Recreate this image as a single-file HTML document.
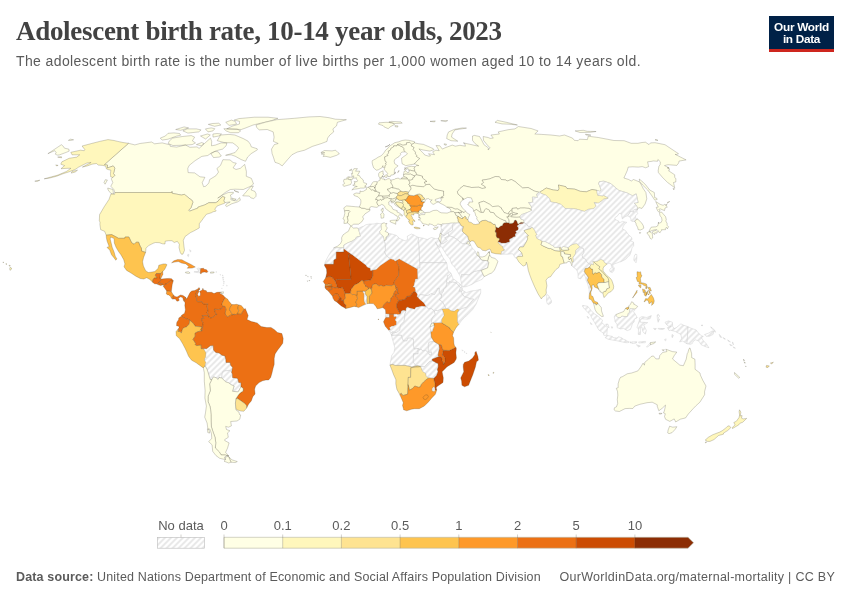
<!DOCTYPE html>
<html><head><meta charset="utf-8"><title>Adolescent birth rate, 10-14 year olds, 2023</title>
<style>
html,body{margin:0;padding:0;background:#fff;}
body{width:850px;height:600px;position:relative;overflow:hidden;font-family:"Liberation Sans",sans-serif;}
#title{position:absolute;left:16px;top:16px;font-family:"Liberation Serif",serif;font-weight:bold;font-size:27px;color:#424242;white-space:nowrap;letter-spacing:-0.3px;line-height:30px;}
#sub{position:absolute;left:16px;top:50.5px;font-size:14px;color:#5b5b5b;white-space:nowrap;line-height:20px;letter-spacing:0.385px}
#logo{position:absolute;left:769px;top:16px;width:65px;height:36px;background:#002147;border-bottom:0;color:#fff;font-weight:bold;font-size:11.8px;line-height:12px;text-align:center;box-sizing:border-box;padding-top:5px;letter-spacing:-0.3px}
#logo:after{content:"";position:absolute;left:0;bottom:0;width:100%;height:3px;background:#ce261e}
#foot{position:absolute;left:16px;top:569px;font-size:12.5px;color:#5b5b5b;white-space:nowrap;line-height:16px;letter-spacing:0.145px}
#foot b{font-weight:bold}
#foot2{position:absolute;right:15px;top:569px;font-size:12.5px;color:#5b5b5b;white-space:nowrap;line-height:16px;letter-spacing:0.28px}
svg{position:absolute;left:0;top:0}
svg path{stroke:rgba(60,55,40,0.55);stroke-width:0.42;stroke-linejoin:round}
.c0{fill:#ffffe5}.c1{fill:#fff7bc}.c2{fill:#fee391}.c3{fill:#fec44f}.c4{fill:#fe9929}.c5{fill:#ec7014}.c6{fill:#cc4c02}.c7{fill:#8c2d04}
.ch{fill:url(#hatch);stroke:#c8c8c8}
.lg text{font-family:"Liberation Sans",sans-serif;font-size:13px;fill:#5b5b5b}
</style></head><body>
<div id="title">Adolescent birth rate, 10-14 year olds, 2023</div>
<div id="sub">The adolescent birth rate is the number of live births per 1,000 women aged 10 to 14 years old.</div>
<div id="logo">Our World<br>in Data</div>
<svg width="850" height="600" viewBox="0 0 850 600">
<defs>
<pattern id="hatch" patternUnits="userSpaceOnUse" width="6" height="6" patternTransform="translate(0.7,0)">
<rect width="6" height="6" fill="#fff"/><path d="M-1,1L1,-1M-1,7L7,-1M5,7L7,5" style="stroke:#e6e6e6;stroke-width:1.75;fill:none"/>
</pattern>
</defs>
<g id="map">
<path class="c0" d="M333.8,247.8L343.9,247.8L343.9,245.1L347.7,243.0L352.1,241.2L355.3,239.1L356.6,237.0L360.6,236.2L359.5,232.6L358.4,228.4L356.7,227.9L353.4,228.1L351.5,226.3L350.4,226.6L348.4,231.3L346.6,232.3L343.0,234.9L341.6,237.8L341.8,240.7L340.6,243.5L337.6,246.1Z"/>
<path class="ch" d="M333.8,247.8L343.9,247.8L343.9,248.7L343.8,252.1L336.3,252.1L336.2,258.8L333.9,260.0L333.6,264.3L324.7,264.3L324.6,265.8L325.1,262.1L327.2,258.1L330.0,253.2L331.0,251.4L333.1,249.5Z"/>
<path class="c6" d="M324.6,265.8L324.7,264.3L333.6,264.3L333.9,260.0L336.2,258.8L336.3,252.1L343.8,252.1L343.9,248.7L352.4,254.7L348.6,254.7L351.1,277.5L350.7,279.5L341.8,279.5L338.8,279.8L337.0,279.3L335.3,281.5L332.9,278.0L330.6,276.7L327.9,276.8L325.6,278.0L326.8,273.0L326.5,269.1Z"/>
<path class="c6" d="M335.3,281.5L337.0,279.3L338.8,279.8L341.8,279.5L350.7,279.5L351.1,277.5L348.6,254.7L352.4,254.7L365.9,264.9L367.3,267.0L370.4,268.3L370.7,270.4L372.8,270.0L372.8,275.9L371.2,279.8L365.3,280.8L363.7,281.1L361.6,280.6L358.6,282.9L356.3,284.2L354.3,285.0L353.1,286.9L351.1,289.2L350.5,292.8L349.4,293.4L347.1,293.4L344.9,293.5L344.2,291.3L342.6,287.6L339.6,288.2L337.2,287.6L336.7,285.0L335.7,282.7Z"/>
<path class="c5" d="M325.6,278.0L327.9,276.8L330.6,276.7L332.9,278.0L335.3,281.5L335.7,282.7L336.7,285.0L337.2,287.6L335.0,287.9L331.8,286.9L328.9,286.9L325.0,287.8L325.0,285.7L327.7,285.7L330.0,285.3L331.6,285.3L331.6,284.6L328.7,284.0L327.8,284.5L325.2,284.5L323.2,281.6Z"/>
<path class="c4" d="M325.0,285.7L327.7,285.7L330.0,285.3L331.6,285.3L331.6,284.6L328.7,284.0L327.8,284.5L325.2,284.5Z"/>
<path class="c5" d="M325.0,287.8L328.9,286.9L331.8,286.9L331.8,289.5L329.5,290.0L328.8,291.4L327.7,290.5L326.5,289.7Z"/>
<path class="c5" d="M328.8,291.4L329.5,290.0L331.8,289.5L331.8,286.9L335.0,287.9L337.2,287.6L339.6,288.2L342.6,287.6L344.2,291.3L344.9,293.5L345.5,298.1L343.7,300.3L341.6,300.7L340.9,297.8L339.6,297.9L338.9,296.2L337.5,293.9L334.7,294.2L332.7,296.4L331.7,295.2L329.9,293.1Z"/>
<path class="c5" d="M332.7,296.4L334.7,294.2L337.5,293.9L338.9,296.2L339.6,297.9L338.8,299.6L336.7,301.9L334.5,300.7L332.9,298.1Z"/>
<path class="c6" d="M336.7,301.9L338.8,299.6L339.6,297.9L340.9,297.8L341.6,300.7L343.7,300.3L343.9,303.0L345.9,304.9L345.8,308.6L341.3,305.9L338.4,303.6Z"/>
<path class="c4" d="M345.8,308.6L345.9,304.9L343.9,303.0L343.7,300.3L345.5,298.1L344.9,293.5L347.1,293.4L349.4,293.4L350.5,292.8L352.4,294.7L354.0,294.4L357.0,295.2L357.5,298.6L355.8,302.3L356.8,304.3L356.1,306.7L354.0,306.4L349.4,307.7Z"/>
<path class="c4" d="M356.1,306.7L356.8,304.3L355.8,302.3L357.5,298.6L357.0,295.2L356.8,291.3L362.9,291.0L363.2,292.3L364.3,293.9L364.1,297.0L364.3,300.4L364.6,302.0L366.0,304.1L362.7,305.6L358.6,307.6Z"/>
<path class="ch" d="M366.0,304.1L364.6,302.0L364.3,300.4L364.1,297.0L364.3,293.9L363.2,292.3L362.9,291.0L365.3,291.3L365.3,293.9L366.4,295.2L367.0,296.5L366.9,301.7L367.0,303.7Z"/>
<path class="c3" d="M367.0,303.7L366.9,301.7L367.0,296.5L366.4,295.2L365.3,293.9L365.3,291.3L366.4,290.2L368.7,288.9L369.7,287.6L371.4,289.5L372.0,292.3L371.5,293.9L369.4,296.5L369.5,300.4L369.4,303.4Z"/>
<path class="c4" d="M350.5,292.8L351.1,289.2L353.1,286.9L354.3,285.0L356.3,284.2L358.6,282.9L361.6,280.6L363.7,281.1L363.9,283.5L365.5,285.0L365.5,286.3L368.0,286.9L368.7,288.9L366.4,290.2L365.3,291.3L362.9,291.0L356.8,291.3L357.0,295.2L354.0,294.4L352.4,294.7Z"/>
<path class="c5" d="M363.7,281.1L365.3,280.8L371.2,279.8L372.8,275.9L372.8,270.0L376.3,269.2L380.2,265.5L390.2,258.7L393.6,259.4L395.2,261.0L397.0,260.0L397.5,263.9L399.2,266.8L398.5,275.9L396.0,279.0L394.0,282.2L394.3,284.2L391.8,285.8L386.1,285.3L383.8,286.5L381.0,285.2L379.0,286.1L375.8,283.7L372.6,284.8L371.4,289.5L369.7,287.6L368.7,288.9L368.0,286.9L365.5,286.3L365.5,285.0L363.9,283.5Z"/>
<path class="c4" d="M369.4,303.4L369.5,300.4L369.4,296.5L371.5,293.9L372.0,292.3L371.4,289.5L372.6,284.8L375.8,283.7L379.0,286.1L381.0,285.2L383.8,286.5L386.1,285.3L391.8,285.8L394.3,284.2L395.5,285.8L395.7,287.6L396.7,290.0L394.8,291.3L393.5,294.9L392.6,297.0L391.2,297.8L390.3,301.7L389.2,303.0L387.4,302.0L386.7,302.0L383.7,305.1L382.8,307.6L379.6,308.4L377.2,308.8L375.9,306.4L374.7,305.1L373.3,303.6Z"/>
<path class="c5" d="M382.8,307.6L383.7,305.1L386.7,302.0L387.4,302.0L389.2,303.0L390.3,301.7L391.2,297.8L392.6,297.0L393.5,294.9L394.8,291.3L396.7,290.0L395.7,287.6L395.5,285.8L396.4,286.6L397.6,288.4L397.6,291.6L398.8,293.9L395.2,294.9L398.8,300.4L396.8,304.3L396.6,306.9L398.0,309.8L400.5,314.3L397.8,314.8L396.6,314.3L393.9,314.3L389.4,314.3L385.8,313.9L385.5,309.8L383.7,308.3Z"/>
<path class="c5" d="M394.3,284.2L395.5,285.8L396.4,286.6L397.6,288.4L397.6,291.6L398.8,293.9L395.2,294.9L398.8,300.4L401.8,300.2L405.7,299.1L406.8,296.5L410.1,296.2L413.0,292.3L415.6,291.6L415.7,290.2L414.7,287.1L413.1,286.9L414.2,285.3L414.6,283.2L415.6,279.0L417.9,279.0L417.6,269.1L399.2,258.8L397.0,260.0L397.5,263.9L399.2,266.8L398.5,275.9L396.0,279.0L394.0,282.2Z"/>
<path class="c6" d="M398.8,300.4L401.8,300.2L405.7,299.1L406.8,296.5L410.1,296.2L413.0,292.3L415.6,291.6L417.6,294.2L417.2,296.8L418.3,297.3L418.8,298.3L420.9,300.2L423.9,302.8L426.4,306.8L421.9,306.2L419.6,306.7L415.9,307.5L414.8,309.3L410.6,308.5L407.2,307.2L406.0,308.8L406.1,310.9L403.5,310.6L401.7,310.9L401.2,312.6L400.5,314.3L398.0,309.8L396.6,306.9L396.8,304.3Z"/>
<path class="ch" d="M385.8,313.9L389.4,314.3L389.4,317.4L385.8,317.4L385.3,316.1Z"/>
<path class="c5" d="M385.8,317.4L389.4,317.4L389.4,314.3L393.9,314.3L393.9,316.6L396.2,316.3L396.6,317.4L395.2,320.0L396.6,321.6L396.4,325.0L393.2,326.3L392.0,326.3L389.7,327.6L390.6,329.7L388.8,330.3L385.3,326.3L383.5,321.8L384.9,319.0Z"/>
<path class="ch" d="M388.8,330.3L390.6,329.7L389.7,327.6L392.0,326.3L393.2,326.3L396.4,325.0L396.6,321.6L395.2,320.0L396.6,317.4L396.2,316.3L393.9,316.6L393.9,314.3L396.6,314.3L397.8,314.8L400.5,314.3L401.2,312.6L401.7,310.9L403.5,310.6L406.1,310.9L404.9,314.0L404.7,317.4L404.5,318.7L404.0,321.6L400.5,325.2L399.8,330.2L398.4,331.2L396.4,332.7L393.4,332.0L392.0,332.0L390.8,333.1Z"/>
<path class="ch" d="M390.8,333.1L392.0,332.0L393.4,332.0L392.7,333.1L392.0,334.9L391.3,335.0Z"/>
<path class="ch" d="M391.3,335.0L392.0,334.9L392.7,333.1L393.4,332.0L396.4,332.7L398.4,331.2L399.8,330.2L400.5,325.2L404.0,321.6L404.5,318.7L404.7,317.4L404.9,314.0L406.1,310.9L406.0,308.8L407.2,307.2L410.6,308.5L414.8,309.3L415.9,307.5L419.6,306.7L421.9,306.2L426.4,306.8L428.6,308.8L431.1,308.3L434.3,310.9L435.3,314.4L432.2,317.9L431.4,322.3L431.4,323.7L430.0,327.2L430.9,331.6L431.3,337.0L434.0,341.5L429.1,342.2L428.4,344.3L428.3,351.1L429.6,352.4L431.5,351.7L431.4,355.1L429.5,355.0L428.2,352.6L425.5,350.3L422.8,351.1L421.2,349.2L419.1,349.8L418.2,348.4L414.1,349.2L413.3,344.8L413.5,341.7L413.3,339.1L410.4,338.0L407.8,338.3L406.9,340.9L403.4,341.1L402.1,338.3L401.4,335.3L394.0,335.3L391.6,335.8Z"/>
<path class="ch" d="M391.6,335.8L394.0,335.3L401.4,335.3L402.1,338.3L403.4,341.1L406.9,340.9L407.8,338.3L410.4,338.0L413.3,339.1L413.5,341.7L413.3,344.8L414.1,349.2L418.2,348.4L418.1,353.9L413.5,353.9L413.3,362.3L416.4,365.9L411.8,367.0L405.0,365.4L395.0,365.4L392.8,364.4L389.9,365.0L391.0,359.2L391.8,355.2L393.9,352.6L394.9,347.9L393.5,343.0Z"/>
<path class="ch" d="M418.2,348.4L419.1,349.8L421.2,349.2L422.8,351.1L425.5,350.3L428.2,352.6L429.5,355.0L431.4,355.1L431.5,351.7L429.6,352.4L428.3,351.1L428.4,344.3L429.1,342.2L434.0,341.5L438.9,344.5L439.6,348.2L438.8,351.3L438.0,355.5L439.1,356.5L432.1,359.2L432.5,360.8L429.1,361.8L424.6,366.8L420.6,366.5L417.8,365.7L416.4,365.9L413.3,362.3L413.5,353.9L418.1,353.9Z"/>
<path class="c2" d="M389.9,365.0L392.8,364.4L395.0,365.4L405.0,365.4L411.8,367.0L416.4,365.9L417.8,365.7L420.6,366.5L418.2,367.0L416.1,367.0L410.9,367.8L410.6,377.4L408.3,377.4L408.1,384.6L407.7,394.1L403.6,395.4L401.9,394.9L401.3,393.3L399.8,394.6L396.9,389.4L395.8,383.9L395.9,379.8L393.5,374.5L391.6,369.3Z"/>
<path class="c2" d="M408.1,384.6L408.3,377.4L410.6,377.4L410.9,367.8L416.1,367.0L418.2,367.0L420.6,366.5L421.8,368.8L422.6,371.2L425.9,373.5L426.4,376.4L429.5,377.9L427.0,379.0L423.7,381.9L421.3,384.5L420.5,386.8L418.5,387.3L414.8,386.0L412.4,388.6L409.4,390.2Z"/>
<path class="ch" d="M420.6,366.5L424.6,366.8L429.1,361.8L432.5,360.8L434.5,361.8L436.1,362.8L438.1,363.6L438.2,367.0L437.4,369.6L438.0,371.7L436.6,375.6L433.8,378.5L429.5,377.9L426.4,376.4L425.9,373.5L422.6,371.2L421.8,368.8Z"/>
<path class="c6" d="M456.0,347.3L456.3,348.7L455.9,352.9L456.4,357.8L456.1,359.2L454.1,362.5L447.1,366.7L442.1,371.8L443.3,377.7L443.0,382.4L437.1,386.6L436.2,387.7L436.7,390.1L434.9,389.9L434.7,387.7L435.1,383.9L434.2,381.3L433.8,378.5L436.6,375.6L438.0,371.7L437.4,369.6L438.2,367.0L438.1,363.6L436.1,362.8L434.5,361.8L432.5,360.8L432.1,359.2L439.1,356.5L441.8,357.6L442.2,358.1L441.9,360.5L443.6,362.3L443.3,364.1L443.5,364.6L444.8,361.8L445.0,358.1L443.0,355.5L442.2,355.2L443.3,350.2L445.7,350.3L449.1,350.5L451.5,349.5Z"/>
<path class="c5" d="M438.9,344.5L441.3,344.8L442.5,348.7L443.3,350.2L442.2,355.2L443.0,355.5L445.0,358.1L444.8,361.8L443.5,364.6L443.3,364.1L443.6,362.3L441.9,360.5L442.2,358.1L441.8,357.6L439.1,356.5L438.0,355.5L438.8,351.3L439.6,348.2Z"/>
<path class="c4" d="M456.0,347.3L454.5,346.1L453.9,343.2L453.6,337.7L452.5,335.7L453.5,332.2L450.1,329.1L449.8,327.8L441.4,322.6L433.4,322.7L434.3,326.1L433.5,327.6L433.2,328.6L432.3,331.2L430.9,331.6L431.3,337.0L434.0,341.5L438.9,344.5L441.3,344.8L442.5,348.7L443.3,350.2L445.7,350.3L449.1,350.5L451.5,349.5Z"/>
<path class="c3" d="M453.5,332.2L454.6,330.4L455.6,328.4L457.5,325.7L459.0,324.4L457.7,322.1L457.6,312.7L459.7,309.6L457.2,309.0L454.2,311.1L451.0,310.6L448.2,308.5L446.1,308.4L441.5,309.0L442.4,310.3L443.6,313.5L443.9,315.6L442.9,317.1L441.4,319.7L441.4,322.6L449.8,327.8L450.1,329.1Z"/>
<path class="ch" d="M431.4,323.7L433.4,322.7L441.4,322.6L441.4,319.7L442.9,317.1L443.9,315.6L443.6,313.5L442.4,310.3L441.5,309.0L439.2,309.8L437.4,310.7L435.8,310.3L434.3,310.9L435.3,314.4L432.2,317.9L431.4,322.3Z"/>
<path class="c0" d="M430.0,327.2L431.4,323.7L433.4,322.7L434.3,326.1L432.3,326.1Z"/>
<path class="ch" d="M430.0,327.2L432.3,326.1L434.3,326.1L433.5,327.6L433.2,328.6L432.3,331.2L430.9,331.6Z"/>
<path class="c4" d="M399.8,394.6L401.3,393.3L401.9,394.9L403.6,395.4L407.7,394.1L408.1,384.6L409.4,390.2L412.4,388.6L414.8,386.0L418.5,387.3L420.5,386.8L421.3,384.5L423.7,381.9L427.0,379.0L429.5,377.9L433.8,378.5L434.2,381.3L435.1,383.9L434.7,387.7L433.5,387.1L432.1,388.9L432.4,391.0L434.4,391.3L434.9,389.9L436.7,390.1L435.8,393.1L435.2,394.4L431.8,398.0L428.2,402.2L424.3,406.1L419.3,408.7L414.5,408.7L411.4,409.3L406.7,410.8L403.5,409.7L403.4,408.5L402.5,405.4L403.3,402.7L401.1,397.5Z"/>
<path class="ch" d="M434.9,389.9L434.7,387.7L433.5,387.1L432.1,388.9L432.4,391.0L434.4,391.3Z"/>
<path class="c4" d="M423.0,397.3L425.4,394.9L427.4,394.9L428.4,396.7L427.1,398.6L425.5,399.6L423.8,399.1Z"/>
<path class="c6" d="M476.1,351.3L477.9,356.5L478.4,360.2L476.5,361.8L475.4,367.0L472.8,374.8L471.2,378.7L468.6,385.3L464.5,386.8L461.9,385.3L461.6,381.1L460.7,377.9L463.8,371.7L463.2,367.0L463.3,364.4L464.6,362.3L468.8,361.0L472.6,358.1L474.8,354.7L474.9,352.6Z"/>
<path class="ch" d="M459.0,324.4L461.2,321.0L464.6,317.4L467.6,314.8L472.6,309.6L476.0,304.3L478.1,299.1L479.8,295.2L480.7,292.9L480.7,289.2L477.8,290.0L475.5,290.5L471.0,291.0L466.4,292.7L462.3,290.1L461.7,291.3L461.2,292.6L463.1,295.5L464.3,296.5L471.2,299.1L473.5,299.1L466.6,307.2L462.2,308.3L459.9,309.6L459.7,309.6L457.6,312.7L457.7,322.1Z"/>
<path class="ch" d="M462.3,290.1L462.4,288.7L461.9,286.9L460.3,287.5L458.9,291.3L461.7,291.3Z"/>
<path class="ch" d="M459.7,309.6L457.2,309.0L454.2,311.1L451.0,310.6L448.2,308.5L446.1,308.4L444.5,305.9L443.0,302.5L439.1,299.4L441.1,298.1L441.5,295.2L441.9,292.3L443.2,291.6L443.6,289.2L445.8,286.9L446.4,284.5L446.7,282.8L449.1,282.9L449.7,281.1L451.1,282.4L452.5,281.9L454.6,282.3L456.7,283.2L460.3,287.5L458.9,291.3L461.7,291.3L461.2,292.6L463.1,295.5L464.3,296.5L471.2,299.1L473.5,299.1L466.6,307.2L462.2,308.3L459.9,309.6Z"/>
<path class="ch" d="M461.9,286.9L460.8,284.5L457.3,281.9L454.4,279.5L453.3,279.3L450.9,273.0L448.3,275.4L447.4,275.5L447.3,277.5L446.3,280.6L446.7,282.8L449.1,282.9L449.7,281.1L451.1,282.4L452.5,281.9L454.6,282.3L456.7,283.2L460.3,287.5Z"/>
<path class="ch" d="M450.9,273.0L448.1,270.9L447.5,268.8L447.1,265.2L446.5,262.6L419.6,262.6L419.8,267.8L417.5,267.8L417.6,269.1L417.9,279.0L415.6,279.0L414.6,283.2L414.2,285.3L413.1,286.9L414.7,287.1L415.7,290.2L415.6,291.6L417.6,294.2L417.2,296.8L418.3,297.3L420.1,294.4L424.0,295.2L427.5,295.6L429.8,294.7L430.9,293.6L433.9,294.6L434.8,294.4L437.4,289.5L437.4,288.7L439.2,288.2L439.1,292.1L441.0,295.2L441.5,295.2L441.9,292.3L443.2,291.6L443.6,289.2L445.8,286.9L446.4,284.5L446.7,282.8L446.3,280.6L447.3,277.5L447.4,275.5L448.3,275.4Z"/>
<path class="ch" d="M418.3,297.3L420.1,294.4L424.0,295.2L427.5,295.6L429.8,294.7L430.9,293.6L433.9,294.6L434.8,294.4L437.4,289.5L437.4,288.7L439.2,288.2L439.1,292.1L441.0,295.2L441.5,295.2L441.1,298.1L439.1,299.4L443.0,302.5L444.5,305.9L446.1,308.4L441.5,309.0L439.2,309.8L437.4,310.7L435.8,310.3L434.3,310.9L431.1,308.3L428.6,308.8L426.4,306.8L423.9,302.8L420.9,300.2L418.8,298.3Z"/>
<path class="ch" d="M419.6,262.6L446.5,262.6L443.0,257.6L439.1,249.5L435.3,241.8L438.0,246.4L439.5,247.6L440.6,243.0L438.6,238.3L436.0,238.8L434.4,238.3L431.5,237.5L429.1,238.6L427.2,239.5L423.1,238.2L418.6,237.4L417.9,241.4L418.7,243.8Z"/>
<path class="ch" d="M418.6,237.4L415.9,236.2L413.9,234.9L411.4,234.1L407.3,236.2L407.6,239.6L405.2,240.9L399.8,238.6L396.4,235.4L392.1,234.1L388.5,233.4L388.4,235.2L385.9,237.3L385.9,239.3L384.3,241.1L385.2,244.3L385.3,250.8L384.2,251.6L386.3,255.8L390.2,258.7L393.6,259.4L395.2,261.0L397.0,260.0L399.2,258.8L417.6,269.1L417.5,267.8L419.8,267.8L419.6,262.6L418.7,243.8L417.9,241.4Z"/>
<path class="c0" d="M388.5,233.4L387.5,232.3L385.2,231.5L386.6,229.3L387.3,227.9L386.2,226.6L385.9,225.0L387.0,223.3L385.4,223.8L384.4,222.7L381.8,223.6L380.9,225.0L381.3,229.7L379.6,231.3L379.8,233.3L381.6,235.2L383.1,236.2L384.3,241.1L385.9,239.3L385.9,237.3L388.4,235.2Z"/>
<path class="ch" d="M381.8,223.6L379.9,223.7L376.8,223.2L374.0,224.0L369.8,224.0L366.0,224.7L363.4,226.3L361.8,226.8L358.4,228.4L359.5,232.6L360.6,236.2L356.6,237.0L355.3,239.1L352.1,241.2L347.7,243.0L343.9,245.1L343.9,247.8L343.9,248.7L352.4,254.7L365.9,264.9L367.3,267.0L370.4,268.3L370.7,270.4L372.8,270.0L376.3,269.2L380.2,265.5L390.2,258.7L386.3,255.8L384.2,251.6L385.3,250.8L385.2,244.3L384.3,241.1L383.1,236.2L381.6,235.2L379.8,233.3L379.6,231.3L381.3,229.7L380.9,225.0Z"/>
<path class="c0" d="M305.6,275.2L306.3,275.2L306.1,275.8ZM307.6,276.4L308.3,276.7L307.9,276.9ZM310.8,276.0L311.2,276.4L310.9,276.7ZM310.9,277.7L311.5,278.0L311.1,278.4ZM309.0,280.1L309.7,280.6L309.3,281.1ZM307.3,280.7L307.7,281.0L307.5,281.4Z"/>
<path class="ch" d="M462.2,349.8L462.9,350.5L462.4,351.1ZM464.4,351.6L465.1,352.1L464.6,352.4ZM466.2,353.1L466.9,353.4L466.4,353.9Z"/>
<path class="c2" d="M493.2,372.2L494.0,372.7L493.3,373.5ZM488.2,374.5L489.3,375.1L488.6,375.9Z"/>
<path class="c2" d="M490.8,332.0L491.2,332.3L491.0,332.5Z"/>
<path class="c4" d="M378.2,319.0L378.8,319.2L378.4,319.9Z"/>
<path class="c0" d="M344.5,210.8L346.2,210.5L349.3,210.6L350.1,211.5L348.6,213.1L348.3,216.4L347.2,216.7L348.2,220.3L347.3,222.9L346.0,223.4L343.9,223.4L344.4,219.8L342.9,218.9L344.0,216.7L344.8,213.3Z"/>
<path class="c0" d="M344.5,210.8L343.8,207.9L346.5,205.9L351.1,206.3L355.3,206.7L359.4,207.0L361.7,208.1L364.7,208.4L366.8,209.2L369.9,209.3L369.9,210.7L367.8,212.1L365.1,213.8L362.6,216.9L363.6,218.9L361.7,221.9L358.5,224.2L353.7,224.2L351.6,225.8L350.2,225.5L349.6,224.5L347.3,222.9L348.2,220.3L347.2,216.7L348.3,216.4L348.6,213.1L350.1,211.5L349.3,210.6L346.2,210.5Z"/>
<path class="c0" d="M359.4,207.0L360.7,203.6L360.9,201.2L360.7,199.7L358.1,196.9L354.3,195.6L353.6,194.1L356.1,193.0L360.0,193.4L360.0,190.8L361.0,191.6L363.4,191.3L366.4,189.5L366.4,187.7L368.3,187.2L369.4,188.1L371.6,190.0L372.8,189.6L374.8,191.1L376.0,191.3L379.7,192.6L378.7,196.1L377.5,196.6L375.7,199.2L375.8,199.8L377.1,199.2L377.6,200.4L376.9,202.5L377.7,204.8L378.8,205.8L377.0,207.4L374.5,207.1L371.7,206.5L369.9,207.4L369.6,208.9L369.9,209.3L366.8,209.2L364.7,208.4L361.7,208.1ZM382.9,207.9L383.3,210.2L382.6,212.0L381.3,210.7L381.2,209.4L382.7,208.7Z"/>
<path class="c0" d="M368.3,187.2L369.9,186.6L371.7,186.6L373.1,186.4L374.8,187.1L374.5,188.0L375.1,188.1L375.5,189.7L374.8,191.1L372.8,189.6L371.6,190.0L369.4,188.1Z"/>
<path class="c0" d="M369.9,186.6L370.5,185.7L371.1,185.0L372.5,182.6L373.7,181.7L376.7,181.5L377.3,181.9L377.0,183.5L376.4,184.9L375.0,185.4L375.5,186.5L375.1,188.1L374.5,188.0L374.8,187.1L373.1,186.4L371.7,186.6Z"/>
<path class="c0" d="M374.8,191.1L375.5,189.7L376.2,190.5L376.0,191.3Z"/>
<path class="c0" d="M377.3,181.9L378.8,180.7L380.1,180.2L379.9,177.8L381.4,178.0L382.5,178.9L384.5,179.0L384.4,180.0L386.6,179.5L387.2,179.0L389.3,178.5L390.8,180.2L391.3,181.7L390.9,182.9L392.2,184.7L392.9,186.7L392.6,187.9L391.6,187.5L388.9,189.0L387.4,189.2L388.3,190.8L391.1,193.1L389.5,194.4L389.1,195.8L389.7,196.3L388.0,196.0L384.6,196.2L382.6,196.2L380.7,195.8L378.7,196.1L379.7,192.6L376.0,191.3L376.2,190.5L375.5,189.7L375.1,188.1L375.5,186.5L375.0,185.4L376.4,184.9L377.0,183.5Z"/>
<path class="c0" d="M378.7,196.1L380.7,195.8L382.6,196.2L382.8,197.5L384.5,197.9L383.9,199.4L382.3,199.2L381.7,200.6L380.4,199.4L379.3,200.3L377.6,200.4L377.1,199.2L375.8,199.8L375.7,199.2L377.5,196.6Z"/>
<path class="c0" d="M382.6,196.2L384.6,196.2L388.0,196.0L389.7,196.3L389.1,195.8L389.5,194.4L391.1,193.1L393.4,192.5L397.4,193.5L398.0,195.1L396.8,196.3L396.1,198.0L393.9,198.5L393.0,199.2L391.2,198.8L388.6,198.4L387.9,197.6L385.7,198.1L384.5,197.9L382.8,197.5Z"/>
<path class="c0" d="M378.8,205.8L377.7,204.8L376.9,202.5L377.6,200.4L379.3,200.3L380.4,199.4L381.7,200.6L382.3,199.2L383.9,199.4L384.5,197.9L385.7,198.1L387.9,197.6L388.6,198.4L391.2,198.8L391.1,200.4L391.6,201.2L390.2,200.9L388.6,202.0L389.0,203.0L388.7,204.5L391.5,206.5L393.0,209.4L397.3,210.7L396.9,212.0L399.1,212.8L402.5,215.3L402.2,216.2L399.7,214.6L398.3,216.4L399.8,218.2L398.6,219.7L397.7,221.0L396.8,220.8L397.1,219.0L397.8,217.7L396.4,215.5L395.0,215.1L393.8,214.0L392.8,213.4L390.6,212.4L388.9,211.1L386.5,209.4L385.2,208.0L384.7,206.6L383.6,205.2L381.7,204.3L380.0,205.6ZM389.9,220.8L391.8,220.3L396.6,220.1L395.7,222.7L395.8,224.3L394.0,223.4L390.4,222.0ZM380.5,214.1L382.6,212.4L384.0,214.3L383.7,217.8L382.4,218.1L381.1,218.2L381.0,215.6Z"/>
<path class="c0" d="M379.9,177.8L378.7,176.2L378.6,173.8L379.5,172.4L383.1,170.8L383.1,172.6L382.8,173.6L383.9,174.1L382.7,175.3L381.8,176.8L381.4,178.0ZM384.4,175.8L386.1,174.8L387.3,175.8L386.7,177.5L384.7,177.0ZM382.0,176.3L383.9,176.5L383.4,177.5Z"/>
<path class="c0" d="M351.8,189.9L354.8,189.1L356.2,189.0L359.2,188.5L360.6,188.1L363.8,188.1L366.0,187.1L366.1,186.5L364.6,186.2L366.4,185.0L366.6,183.5L363.8,182.7L363.2,181.2L363.5,181.0L363.0,179.7L360.5,177.6L359.4,175.6L357.3,175.1L358.2,174.3L359.2,172.4L359.8,171.2L355.5,171.2L357.4,168.6L353.9,168.7L352.3,171.2L352.6,173.8L351.4,173.4L352.3,176.8L353.8,175.8L353.4,178.3L356.6,177.8L356.2,178.8L357.6,180.5L357.1,181.7L354.2,181.5L355.2,182.7L354.0,183.0L355.1,184.2L352.7,185.2L354.9,186.0L357.3,186.5L354.9,187.0L354.1,187.7ZM347.3,178.9L349.2,177.4L351.7,176.9L352.6,178.3L352.4,179.4L351.0,179.7L349.0,179.6ZM349.3,170.4L351.6,169.0L351.4,170.4Z"/>
<path class="c0" d="M351.0,179.7L351.3,181.5L351.5,182.6L350.6,184.5L347.0,185.5L343.8,186.4L342.7,184.7L344.6,183.5L343.5,181.2L344.0,179.3L346.5,179.3L346.4,178.3L347.2,177.2L349.2,176.7L349.2,177.4L347.3,178.9L349.0,179.6Z"/>
<path class="c0" d="M376.3,170.2L373.6,167.8L372.4,164.2L372.1,161.8L372.4,160.6L375.7,158.8L378.3,157.1L380.9,156.0L383.0,153.9L384.1,152.5L385.6,150.2L387.8,148.4L389.4,146.2L392.5,144.2L394.7,142.7L398.7,141.8L402.0,140.5L405.3,140.0L409.0,140.3L414.5,141.7L414.5,142.9L411.7,144.5L409.6,142.3L406.4,142.9L406.5,144.6L402.9,145.3L400.0,144.0L397.6,144.5L397.0,146.0L393.7,145.8L393.6,146.9L391.3,148.0L390.8,149.1L389.8,150.7L388.3,151.1L388.7,153.0L387.3,154.6L388.1,155.5L384.7,156.9L384.7,158.3L385.3,161.3L386.6,162.2L385.6,163.0L386.2,164.7L385.0,165.9L385.1,167.1L384.5,168.0L382.8,167.1L382.9,165.6L382.3,167.5L380.9,168.3L378.2,169.9ZM385.2,146.9L388.5,145.5L390.0,144.2L387.7,146.2ZM378.5,124.2L379.0,122.8L386.1,122.3L391.9,122.6L394.6,124.4L390.1,126.9L388.2,128.7L384.1,126.9L383.1,125.6ZM388.9,121.9L391.6,121.4L401.0,121.9L402.2,123.2L395.1,123.5L390.6,122.8ZM394.9,125.6L398.0,125.9L397.6,127.1L395.2,126.7Z"/>
<path class="c0" d="M384.5,168.0L384.1,169.5L385.6,170.9L387.7,173.6L387.0,174.3L388.1,176.5L390.4,176.5L390.9,175.1L393.3,174.8L394.3,173.4L394.4,170.7L394.7,168.7L396.7,167.1L398.1,165.9L394.7,163.7L394.2,161.3L394.5,159.7L396.3,158.3L399.2,156.4L400.7,154.6L400.3,153.7L401.8,152.1L405.1,151.8L404.0,150.2L404.0,148.4L402.9,147.1L398.5,145.1L397.6,144.5L397.0,146.0L393.7,145.8L393.6,146.9L391.3,148.0L390.8,149.1L389.8,150.7L388.3,151.1L388.7,153.0L387.3,154.6L388.1,155.5L384.7,156.9L384.7,158.3L385.3,161.3L386.6,162.2L385.6,163.0L386.2,164.7L385.0,165.9L385.1,167.1ZM397.6,172.6L398.9,170.4L398.7,171.9ZM394.4,174.3L395.5,171.9L394.9,173.8Z"/>
<path class="c0" d="M405.1,151.8L407.5,153.7L406.3,154.8L404.0,156.4L401.6,158.1L401.8,161.6L402.2,163.9L404.1,164.7L405.6,165.7L409.2,165.0L414.1,164.1L415.9,162.3L417.4,160.6L419.8,158.5L416.4,156.4L417.1,155.5L415.3,153.9L415.5,152.1L413.1,149.3L414.2,147.5L411.3,145.8L411.7,144.5L409.6,142.3L406.4,142.9L406.5,144.6L402.9,145.3L400.0,144.0L397.6,144.5L398.5,145.1L402.9,147.1L404.0,148.4L404.0,150.2Z"/>
<path class="c0" d="M408.9,170.5L409.0,169.3L407.0,168.7L406.6,167.3L408.9,166.7L411.3,166.3L415.1,166.7L414.2,168.3L414.6,169.5L414.7,171.3L412.1,170.7L410.1,170.2ZM404.2,169.5L405.9,168.7L406.7,169.2L405.4,170.2ZM404.3,168.0L405.8,167.8L405.7,168.5Z"/>
<path class="c0" d="M408.9,170.5L409.1,172.1L408.8,172.5L407.1,172.4L405.7,170.8L404.1,171.3L403.4,174.9L405.1,174.1L408.9,174.3L410.6,174.1L414.1,175.9L416.9,174.7L415.7,171.9L414.7,171.3L412.1,170.7L410.1,170.2Z"/>
<path class="c0" d="M403.4,174.9L403.6,175.8L404.0,176.9L406.7,177.5L407.3,179.1L408.8,180.1L410.6,180.2L412.8,179.3L412.9,177.8L414.7,176.8L414.1,175.9L410.6,174.1L408.9,174.3L405.1,174.1Z"/>
<path class="c0" d="M404.0,176.9L406.7,177.5L407.3,179.1L401.5,178.9L401.7,177.8L403.4,177.0Z"/>
<path class="c0" d="M390.8,180.2L394.6,179.3L395.1,178.8L398.5,178.0L399.4,179.1L401.5,178.9L407.3,179.1L408.8,180.1L410.1,183.2L408.8,184.2L409.9,186.2L411.1,187.9L411.1,189.0L408.6,192.3L405.4,191.5L403.0,192.0L401.1,191.3L398.5,189.2L396.9,189.0L395.7,188.4L392.6,187.9L392.9,186.7L392.2,184.7L390.9,182.9L391.3,181.7Z"/>
<path class="c0" d="M392.6,187.9L395.7,188.4L396.9,189.0L398.5,189.2L401.1,191.3L399.8,191.8L397.9,192.9L397.4,193.5L393.4,192.5L391.1,193.1L388.3,190.8L387.4,189.2L388.9,189.0L391.6,187.5Z"/>
<path class="c2" d="M397.4,193.5L397.9,192.9L399.8,191.8L401.1,191.3L403.0,192.0L405.4,191.5L408.6,192.3L408.0,194.1L405.2,193.7L403.3,194.7L401.4,195.6L399.4,195.7L398.0,195.1Z"/>
<path class="c2" d="M398.0,195.1L399.4,195.7L401.4,195.6L403.3,194.7L405.2,193.7L408.0,194.1L409.7,195.2L408.0,196.3L406.6,199.2L404.8,199.9L402.2,200.3L402.0,200.4L399.4,200.4L397.1,198.9L396.1,198.0L396.8,196.3Z"/>
<path class="c0" d="M391.2,198.8L393.0,199.2L393.9,198.5L396.1,198.0L397.1,198.9L395.4,199.7L395.3,200.7L394.7,201.6L393.2,201.1L391.2,201.6L391.6,201.2L391.1,200.4Z"/>
<path class="c0" d="M391.2,201.6L393.2,201.1L394.7,201.6L395.3,200.7L395.4,199.7L397.1,198.9L399.4,200.4L402.0,200.4L403.2,202.2L402.5,203.1L400.4,202.5L398.1,202.1L395.8,202.2L395.8,203.3L396.8,204.8L399.3,206.9L400.1,207.9L401.9,209.0L402.0,209.3L399.8,207.9L397.4,206.6L394.8,204.8L394.0,202.7L392.7,202.0L392.0,203.3L391.1,202.2Z"/>
<path class="c1" d="M395.8,202.2L398.1,202.1L400.4,202.5L402.5,203.1L403.5,204.5L403.2,206.6L402.2,207.2L401.9,209.0L400.1,207.9L399.3,206.9L396.8,204.8L395.8,203.3Z"/>
<path class="c1" d="M402.0,209.3L401.9,209.0L402.2,207.2L403.2,206.6L405.8,208.3L405.3,209.0L404.5,208.9L403.9,210.9L403.3,210.2Z"/>
<path class="c1" d="M402.0,200.4L402.2,200.3L404.8,199.9L407.4,202.2L407.7,203.3L409.1,204.0L410.3,204.8L409.8,205.6L411.1,207.4L410.1,209.6L408.5,209.8L406.5,210.8L405.3,209.0L405.8,208.3L403.2,206.6L403.5,204.5L402.5,203.1L403.2,202.2Z"/>
<path class="c1" d="M403.9,210.9L404.5,208.9L405.3,209.0L406.5,210.8L406.5,212.3L407.1,213.3L407.6,213.4L407.1,215.4L405.8,216.5L404.1,214.6L404.2,212.3Z"/>
<path class="c2" d="M406.5,210.8L408.5,209.8L410.1,209.6L411.6,211.2L411.6,212.1L409.7,212.7L407.6,213.4L407.1,213.3L406.5,212.3Z"/>
<path class="c2" d="M405.8,216.5L407.1,215.4L407.6,213.4L409.7,212.7L411.6,212.1L414.8,211.6L418.1,212.1L418.7,211.2L419.3,212.1L418.3,213.7L416.1,213.2L414.8,213.3L413.4,213.8L414.1,214.9L412.9,215.0L411.7,214.3L411.2,215.6L412.5,217.7L412.1,218.2L414.6,220.3L414.9,221.7L413.6,220.8L412.6,221.1L413.1,222.4L413.1,224.9L411.8,225.0L410.0,224.0L408.5,221.1L409.7,220.1L408.8,220.1L407.4,218.5L406.2,217.2ZM414.2,227.3L415.7,227.1L419.0,227.7L420.3,228.1L419.9,228.6L416.9,228.8L414.2,228.0ZM423.1,225.7L424.1,225.0L424.0,226.0ZM418.6,217.5L419.7,217.5L419.4,218.2ZM418.6,219.5L419.1,219.5L418.9,220.3Z"/>
<path class="c4" d="M410.3,204.8L411.1,205.8L414.2,205.9L416.3,206.2L419.9,205.0L422.7,206.0L421.5,207.4L420.9,209.2L422.1,210.5L420.0,210.3L418.7,211.2L418.1,212.1L414.8,211.6L411.6,212.1L411.6,211.2L410.1,209.6L411.1,207.4L409.8,205.6Z"/>
<path class="c4" d="M404.8,199.9L406.6,199.2L408.0,196.3L409.7,195.2L413.8,195.7L417.1,194.4L419.2,196.6L421.0,199.2L421.3,201.6L424.3,201.8L424.5,202.2L423.0,203.5L422.8,205.3L422.7,206.0L419.9,205.0L416.3,206.2L414.2,205.9L411.1,205.8L410.3,204.8L409.1,204.0L407.7,203.3L407.4,202.2Z"/>
<path class="c2" d="M417.1,194.4L419.2,196.6L421.0,199.2L421.3,201.6L421.9,201.3L422.7,199.7L424.9,199.2L424.3,198.0L422.6,196.3L422.2,195.2L419.4,193.9Z"/>
<path class="c0" d="M408.0,194.1L408.6,192.3L411.1,189.0L411.1,187.9L409.9,186.2L412.5,185.2L417.0,186.0L421.0,186.5L423.8,186.7L425.8,184.7L429.7,184.1L431.0,185.7L434.2,189.0L439.3,190.3L443.7,191.0L443.5,193.0L443.8,195.6L441.1,197.4L438.5,198.4L435.4,199.4L435.2,200.9L438.7,201.8L436.3,202.7L433.7,204.3L432.4,203.9L430.2,201.8L432.2,199.9L430.1,199.9L428.5,198.6L426.2,198.9L425.3,200.6L424.5,202.2L424.3,201.8L421.3,201.6L421.9,201.3L422.7,199.7L424.9,199.2L424.3,198.0L422.6,196.3L422.2,195.2L419.4,193.9L417.1,194.4L413.8,195.7L409.7,195.2Z"/>
<path class="c0" d="M408.8,180.1L410.6,180.2L412.8,179.3L412.9,177.8L414.7,176.8L414.1,175.9L416.9,174.7L422.4,176.0L422.6,178.0L427.0,181.4L424.4,182.2L425.8,184.7L423.8,186.7L421.0,186.5L417.0,186.0L412.5,185.2L409.9,186.2L408.8,184.2L410.1,183.2Z"/>
<path class="c0" d="M418.3,213.7L419.3,212.1L418.7,211.2L420.0,210.3L422.1,210.5L424.6,212.4L422.4,213.1L420.9,213.2L419.8,214.3L418.9,215.5ZM418.9,215.6L421.5,214.6L424.7,214.6L425.1,212.5L429.5,212.3L433.2,210.5L437.0,210.2L440.0,212.3L441.4,212.8L447.1,213.1L450.8,211.7L453.4,211.5L455.0,212.8L456.0,215.4L458.6,216.5L457.2,217.2L458.3,219.8L458.1,221.1L459.7,223.0L454.4,223.2L450.9,223.2L445.2,224.0L442.3,224.0L441.4,224.7L441.9,225.5L441.5,226.4L440.9,226.3L441.4,224.5L440.1,224.5L437.8,224.0L436.1,225.7L434.2,226.0L432.3,224.6L429.2,223.8L428.9,225.4L426.0,224.2L424.0,224.0L422.3,223.4L421.7,221.9L419.5,220.1L420.5,218.8L420.1,217.5L418.8,216.9Z"/>
<path class="c0" d="M433.4,228.5L434.8,227.7L438.2,226.8L437.1,228.6L435.0,229.7L433.7,229.3Z"/>
<path class="c0" d="M446.6,206.9L452.0,207.4L455.0,208.9L457.4,208.7L460.9,210.7L461.7,212.8L458.2,212.4L455.0,212.8L453.4,211.5L450.8,211.7L450.9,210.5L450.2,208.9Z"/>
<path class="c0" d="M455.0,212.8L458.2,212.4L459.7,213.6L460.8,215.1L462.6,217.5L462.5,218.5L461.5,218.5L459.1,217.2L458.6,216.5L456.0,215.4Z"/>
<path class="c0" d="M460.9,210.7L464.1,212.5L465.4,210.9L467.2,213.1L469.9,214.6L468.5,217.2L467.9,219.7L465.7,218.5L466.1,217.2L464.9,216.4L462.5,218.5L462.6,217.5L460.8,215.1L459.7,213.6L458.2,212.4L461.7,212.8Z"/>
<path class="ch" d="M440.9,226.3L441.5,226.4L441.9,225.5L441.4,224.7L442.3,224.0L445.2,224.0L450.9,223.2L454.4,223.2L452.2,225.0L452.7,227.1L452.5,230.2L448.1,232.9L444.0,235.7L441.6,234.5L441.2,233.2L441.9,232.3L443.0,230.7L442.4,229.7L441.5,229.6Z"/>
<path class="ch" d="M440.1,233.6L441.2,233.2L441.9,232.3L443.0,230.7L442.4,229.7L441.5,229.6L440.7,231.5Z"/>
<path class="c0" d="M438.6,238.3L440.6,243.0L441.3,239.1L441.2,235.4L441.6,234.5L441.2,233.2L440.1,233.6L439.8,234.4L439.6,236.3Z"/>
<path class="ch" d="M440.6,243.0L440.7,243.4L443.1,243.8L446.2,241.7L447.2,240.4L444.7,237.8L449.3,236.1L448.1,232.9L444.0,235.7L441.6,234.5L441.2,235.4L441.3,239.1Z"/>
<path class="ch" d="M454.4,223.2L459.7,223.0L461.5,226.0L463.5,226.6L462.5,229.7L462.3,231.3L464.3,233.3L467.8,236.2L468.4,239.1L469.3,240.4L470.7,241.8L469.4,241.7L468.7,241.4L467.5,241.8L466.5,244.0L462.4,243.8L456.0,238.8L452.0,236.6L449.3,236.1L448.1,232.9L452.5,230.2L452.7,227.1L452.2,225.0Z"/>
<path class="c0" d="M469.4,241.7L468.7,241.4L467.5,241.8L466.5,244.0L468.7,244.3L469.2,245.5L470.8,245.5L469.9,243.4L469.4,243.3Z"/>
<path class="ch" d="M440.7,243.4L443.1,243.8L446.2,241.7L447.2,240.4L444.7,237.8L449.3,236.1L452.0,236.6L456.0,238.8L462.4,243.8L466.5,244.0L468.7,244.3L469.2,245.5L470.8,245.5L472.2,248.0L475.4,251.1L475.4,252.9L477.2,255.4L478.2,255.8L479.1,256.6L479.2,256.8L481.7,260.1L487.6,260.8L488.8,262.6L487.7,267.8L481.2,270.4L474.4,271.5L472.7,272.5L468.8,275.0L466.0,274.6L463.3,274.6L461.7,274.3L461.6,276.4L460.7,277.2L459.9,275.6L457.6,271.7L455.6,268.3L451.7,263.9L449.8,258.7L446.9,255.3L444.9,252.1L441.6,246.8L440.5,246.9Z"/>
<path class="ch" d="M460.7,277.2L461.6,276.4L461.7,274.3L463.3,274.6L466.0,274.6L468.8,275.0L472.7,272.5L474.4,271.5L481.2,270.4L484.1,276.5L482.2,279.3L475.3,282.2L471.8,284.5L466.2,286.6L462.8,287.0L462.0,285.3L461.1,281.4L460.6,279.0Z"/>
<path class="c0" d="M484.1,276.5L481.2,270.4L487.7,267.8L488.8,262.6L487.6,260.8L488.6,256.8L489.6,254.8L491.3,257.4L495.0,258.4L498.0,261.3L496.0,266.5L494.3,270.4L491.6,273.0L488.9,274.1L486.3,275.6ZM488.7,252.0L489.3,251.2L489.5,253.2L489.0,253.1Z"/>
<path class="c0" d="M479.2,256.8L481.7,260.1L487.6,260.8L488.6,256.8L489.6,254.8L489.5,253.2L489.0,253.1L488.7,252.0L487.2,254.0L485.4,256.1L482.3,257.0Z"/>
<path class="c0" d="M477.2,255.4L476.9,253.4L477.7,251.7L478.7,252.4L479.0,254.7L479.1,256.6L478.2,255.8Z"/>
<path class="c2" d="M458.6,216.5L459.1,217.2L461.5,218.5L462.5,218.5L464.9,216.4L466.1,217.2L465.7,218.5L467.9,219.7L468.7,221.9L471.2,222.4L473.2,224.0L475.5,224.5L479.4,223.7L479.2,222.5L482.0,220.6L485.8,220.2L488.7,221.7L490.7,222.1L493.4,224.3L495.2,224.3L495.9,227.1L496.1,229.2L495.2,231.0L495.5,232.2L496.4,232.6L496.3,236.0L497.2,237.8L499.1,238.0L499.6,239.5L498.0,242.1L500.5,245.1L502.9,246.4L503.3,248.7L504.4,249.0L504.4,250.6L501.7,251.5L501.3,254.2L499.1,254.0L495.7,253.7L491.5,252.7L490.4,249.5L489.1,249.1L485.7,250.8L482.5,250.3L480.2,248.0L477.7,247.2L476.0,244.6L474.0,241.2L471.5,240.7L470.7,241.8L469.3,240.4L468.4,239.1L467.8,236.2L464.3,233.3L462.3,231.3L462.5,229.7L463.5,226.6L461.5,226.0L459.7,223.0L458.1,221.1L458.3,219.8L457.2,217.2Z"/>
<path class="c7" d="M495.9,227.1L496.1,229.2L495.2,231.0L495.5,232.2L496.4,232.6L496.3,236.0L497.2,237.8L499.1,238.0L499.6,239.5L498.0,242.1L501.8,243.3L505.3,243.3L509.8,242.1L509.7,239.3L512.6,238.0L513.2,237.0L515.6,236.7L515.4,233.9L517.0,233.0L515.7,231.3L518.1,230.2L518.7,228.1L517.3,226.0L519.6,224.0L522.8,223.8L524.4,222.8L523.3,222.4L520.9,222.3L518.1,224.2L516.7,221.1L516.0,220.1L514.2,220.6L514.1,221.9L512.5,223.2L509.7,223.4L509.2,222.9L506.4,222.5L504.4,222.7L502.9,223.7L502.6,225.3L499.9,226.4L498.5,228.1Z"/>
<path class="ch" d="M501.3,254.2L507.8,254.2L512.5,253.7L513.6,255.3L515.0,257.6L516.6,258.1L517.7,256.6L522.7,256.3L521.8,252.9L519.9,250.8L518.4,249.5L519.9,246.9L523.3,247.0L525.2,243.8L526.7,241.2L527.7,238.8L527.0,236.5L528.6,235.7L526.8,233.9L524.8,231.8L524.1,230.5L526.5,229.7L530.6,228.6L531.9,227.3L527.7,226.0L527.1,224.5L524.4,222.8L522.8,223.8L519.6,224.0L517.3,226.0L518.7,228.1L518.1,230.2L515.7,231.3L517.0,233.0L515.4,233.9L515.6,236.7L513.2,237.0L512.6,238.0L509.7,239.3L509.8,242.1L505.3,243.3L501.8,243.3L498.0,242.1L500.5,245.1L502.9,246.4L503.3,248.7L504.4,249.0L504.4,250.6L501.7,251.5Z"/>
<path class="c0" d="M128.5,143.3L134.9,144.9L139.9,143.5L151.6,142.0L154.6,143.8L162.2,142.9L170.2,144.9L170.3,146.4L176.5,147.1L180.7,146.2L185.3,144.9L189.9,147.3L197.0,146.9L199.1,148.4L202.5,145.3L210.5,138.1L211.7,141.4L211.5,145.8L215.3,145.1L221.2,142.9L226.9,143.1L226.1,145.8L222.6,149.1L216.4,150.7L211.3,153.0L207.8,155.5L201.8,156.4L195.2,160.6L189.2,165.4L187.8,168.3L188.1,172.6L194.6,172.9L200.0,176.8L204.9,177.3L202.2,182.7L203.6,186.7L205.8,186.2L208.8,183.0L209.7,179.5L215.8,175.8L218.5,172.1L216.9,168.5L220.5,165.4L222.9,159.7L230.0,159.9L233.1,162.5L236.3,163.2L233.1,167.8L236.0,169.5L240.3,168.3L244.7,164.4L246.4,171.4L246.3,176.3L251.3,178.3L252.3,180.7L253.5,184.0L250.8,186.2L243.3,189.5L235.4,189.2L230.3,189.5L225.2,192.5L219.6,196.9L217.7,198.1L223.4,194.6L228.2,192.5L233.3,192.3L233.4,193.3L230.4,195.1L231.1,197.1L230.9,199.7L232.7,200.4L236.7,200.9L239.5,197.6L240.4,200.2L237.4,202.0L231.7,203.8L226.7,206.6L225.6,205.8L226.5,203.8L230.2,202.0L224.8,202.5L223.7,200.9L224.9,197.4L222.7,196.6L219.9,198.9L217.2,202.0L215.5,202.7L208.9,202.7L204.5,205.0L198.1,207.1L197.9,208.1L189.5,211.2L188.6,210.2L190.9,207.9L193.0,202.0L191.6,199.9L190.0,198.9L184.3,194.3L181.5,195.1L178.9,194.6L172.2,193.3L172.0,191.5L171.5,192.5L114.8,192.5L113.8,189.5L110.8,186.2L112.8,182.5L111.3,178.8L114.8,175.3L113.5,173.6L114.9,168.0L113.2,165.9L107.4,168.0L107.5,165.1L104.3,164.7ZM257.4,149.8L251.1,153.7L247.6,157.1L245.5,161.3L241.0,159.5L235.5,156.4L231.1,154.8L225.6,155.3L235.1,152.5L238.7,148.0L236.7,145.8L232.8,142.9L224.0,142.5L217.2,140.7L220.6,135.0L229.0,134.4L234.8,135.0L238.4,136.5L243.3,138.6L248.1,141.2L250.3,144.2L251.3,146.9L257.1,148.7ZM168.2,143.5L172.9,145.5L181.5,145.3L192.2,144.6L195.5,142.9L192.4,140.9L194.6,137.1L191.3,135.6L182.4,136.5L172.5,138.1L169.1,141.2ZM160.3,138.1L162.1,140.1L168.0,139.2L176.3,136.2L180.7,135.2L179.5,133.5L174.0,132.9L168.0,133.3L165.4,136.0ZM226.7,128.9L241.3,129.5L245.8,127.9L253.1,125.0L260.7,123.2L271.6,120.6L277.9,118.3L268.0,117.2L254.4,117.2L238.9,118.6L234.2,120.1L239.6,121.4L239.4,124.1L232.9,125.9ZM223.8,128.7L226.1,130.9L230.5,132.7L238.3,132.7L240.7,130.9L237.1,129.1L228.2,128.9ZM225.7,122.3L229.1,125.4L236.5,124.1L235.3,121.4L231.4,120.1ZM182.9,130.9L187.9,133.1L198.7,131.9L201.1,129.9L196.3,128.9L187.2,128.9ZM200.5,136.0L205.6,139.0L210.3,135.0L207.4,134.0ZM212.9,134.0L213.0,137.1L218.8,136.0L221.5,134.0L217.2,133.5ZM205.4,128.9L208.0,131.9L213.0,130.9L214.8,128.7L211.2,127.9ZM175.7,129.5L180.7,130.3L188.6,127.9L184.1,126.9ZM208.3,124.4L214.7,126.3L220.8,125.0L218.8,123.2L212.5,123.5ZM196.4,144.6L201.3,145.8L204.0,143.5L201.7,142.5ZM210.8,153.7L213.5,157.6L219.1,157.1L221.3,156.0L218.2,151.8L215.0,151.4ZM242.7,195.8L246.7,191.3L250.6,186.7L253.4,186.0L251.1,190.0L254.8,191.3L256.1,193.8L256.0,196.3L253.7,198.6L250.9,197.9L249.3,196.1ZM107.7,188.0L112.8,189.5L113.6,194.1L110.8,193.3L108.1,190.0ZM105.3,179.7L107.4,180.0L105.1,184.2L104.0,182.5ZM234.0,190.3L238.8,192.3L235.6,191.5ZM231.8,198.1L236.2,199.2L234.2,200.2L232.1,199.2Z"/>
<path class="c1" d="M128.5,143.3L123.0,142.5L117.8,141.4L114.1,140.5L108.0,139.6L99.7,141.4L91.5,143.5L82.1,146.0L83.6,148.0L84.8,149.6L84.2,150.7L80.5,150.2L70.8,152.3L72.0,154.8L79.7,154.8L76.8,157.1L69.1,158.3L61.9,161.8L60.8,164.2L64.6,165.6L61.0,168.7L68.1,168.3L70.9,168.3L66.5,171.4L57.8,175.1L50.9,177.0L44.2,178.8L48.6,178.3L56.5,176.3L62.9,173.8L68.8,171.9L75.1,169.5L78.7,167.1L86.9,163.0L91.1,162.5L82.4,167.1L87.4,165.9L92.0,164.2L96.4,163.5L98.3,165.1L102.7,165.4L105.6,166.1L106.5,169.0L108.6,169.7L110.9,170.2L110.4,173.8L110.7,176.8L112.9,177.5L114.8,175.3L113.5,173.6L114.9,168.0L113.2,165.9L107.4,168.0L107.5,165.1L104.3,164.7ZM72.1,171.4L77.5,170.2L75.1,172.1L71.2,173.1ZM57.7,157.1L61.6,157.8L61.4,156.7ZM55.7,164.9L58.1,165.4L56.6,165.9ZM34.8,181.2L39.8,180.2L37.7,181.2Z"/>
<path class="c1" d="M114.8,192.5L171.5,192.5L172.0,191.5L172.2,193.3L178.9,194.6L181.5,195.1L184.3,194.3L190.0,198.9L191.6,199.9L193.0,202.0L190.9,207.9L188.6,210.2L189.5,211.2L197.9,208.1L198.1,207.1L204.5,205.0L208.9,202.7L215.5,202.7L217.2,202.0L219.9,198.9L222.7,196.6L224.9,197.4L223.7,200.9L224.8,202.5L224.6,203.3L221.1,204.5L217.0,206.1L214.8,209.2L216.0,210.5L215.8,211.2L213.1,211.8L211.3,212.8L206.4,214.3L203.2,218.5L202.1,220.1L199.3,223.7L199.3,227.9L196.7,229.4L193.2,231.3L190.5,232.6L185.1,236.5L183.3,240.4L183.9,245.9L184.5,250.3L182.9,254.2L181.3,254.2L180.1,252.1L179.0,247.4L179.4,244.3L177.3,241.4L174.2,242.5L172.0,240.7L168.7,240.7L165.2,241.2L165.0,244.0L162.4,243.8L159.3,242.7L155.4,242.5L153.2,243.3L148.6,245.6L146.0,248.2L145.6,252.4L141.6,251.1L141.4,248.2L140.1,246.1L138.6,242.2L136.2,242.2L134.1,244.3L131.6,242.7L128.9,237.0L125.1,237.0L124.7,238.3L118.6,238.3L111.7,234.6L106.2,235.2L104.6,231.3L100.7,229.7L99.9,224.7L100.0,222.1L99.3,220.8L99.6,214.6L104.3,206.6L109.0,199.4L110.9,194.1L114.6,194.3ZM10.1,267.3L12.0,268.6L10.0,270.4L9.7,268.8ZM9.0,265.2L10.4,265.7L9.4,266.2ZM5.9,263.6L6.9,264.1L6.0,264.4ZM2.9,262.1L3.8,262.3L3.2,262.8Z"/>
<path class="c3" d="M106.2,235.2L111.7,234.6L118.6,238.3L124.7,238.3L125.1,237.0L128.9,237.0L131.6,242.7L134.1,244.3L136.2,242.2L138.6,242.2L140.1,246.1L141.4,248.2L141.6,251.1L145.6,252.4L143.6,257.4L142.6,261.8L143.4,266.0L145.3,269.9L145.8,270.9L148.5,272.5L152.0,272.0L154.8,271.5L158.2,268.3L158.8,265.2L163.3,263.9L165.6,263.9L167.0,264.7L164.9,269.1L162.7,271.7L160.6,273.5L156.4,273.5L155.2,275.1L157.2,278.0L154.2,278.0L152.8,280.1L152.6,282.2L149.9,279.5L146.7,277.7L143.8,279.0L140.2,278.5L135.8,276.2L131.0,273.0L126.6,270.4L124.0,266.8L124.9,263.9L123.6,259.4L120.9,254.7L118.5,251.6L116.0,247.2L114.3,243.0L114.1,238.6L110.6,237.0L110.2,239.1L111.4,243.8L112.2,247.2L114.1,252.1L115.4,256.6L117.0,258.9L115.6,260.2L115.1,259.2L111.5,254.7L109.7,250.1L107.0,247.4L109.1,246.4L107.1,241.2L106.4,237.8Z"/>
<path class="c5" d="M152.6,282.2L152.8,280.1L154.2,278.0L157.2,278.0L155.2,275.1L156.4,273.5L160.6,273.5L159.9,278.5L160.5,278.5L161.8,279.0L159.5,281.9L159.1,282.4L157.2,284.1L154.5,283.7Z"/>
<path class="c4" d="M159.9,278.5L160.6,273.5L162.7,271.7L162.9,274.3L161.3,277.5L160.5,278.5Z"/>
<path class="c5" d="M157.2,284.1L159.1,282.4L160.9,283.5L162.5,283.7L162.4,285.0L160.7,285.5L158.5,284.8Z"/>
<path class="c5" d="M161.8,279.0L163.7,278.8L167.1,278.5L169.4,278.4L171.7,278.8L173.3,280.8L169.6,281.4L167.1,283.7L165.0,284.0L164.1,286.1L163.3,285.0L162.4,285.0L162.5,283.7L160.9,283.5L159.1,282.4L159.5,281.9Z"/>
<path class="c5" d="M173.3,280.8L172.2,284.8L171.8,287.9L171.3,291.6L169.0,291.3L166.7,291.0L165.1,288.7L163.2,286.3L164.1,286.1L165.0,284.0L167.1,283.7L169.6,281.4Z"/>
<path class="c4" d="M171.3,291.6L169.0,291.3L166.7,291.0L166.3,293.9L167.8,294.9L168.7,294.9L170.9,296.8L171.1,298.1L172.7,299.1L172.8,296.5L173.6,295.1L172.7,293.9Z"/>
<path class="c5" d="M173.6,295.1L172.8,296.5L172.7,299.1L175.4,299.1L176.9,301.2L178.3,300.9L179.3,300.2L178.4,298.3L180.6,296.8L182.8,297.8L183.4,300.4L184.1,301.2L185.3,299.4L185.6,297.3L183.0,295.5L180.5,294.9L177.1,297.0L174.9,296.5Z"/>
<path class="c4" d="M171.6,262.8L173.9,260.8L177.6,259.6L181.9,259.7L185.0,261.5L188.2,263.1L191.5,264.7L195.3,267.0L192.2,268.1L187.2,268.2L188.8,266.5L185.9,263.9L181.5,263.1L178.3,261.5L174.8,262.1Z"/>
<path class="ch" d="M194.0,272.1L197.8,272.6L200.2,272.9L200.7,268.6L198.3,268.1L196.9,268.6L198.1,270.1L198.9,271.5L196.4,271.5L194.3,271.5Z"/>
<path class="c5" d="M200.2,272.9L200.7,268.6L203.5,268.3L204.7,269.4L206.3,269.6L207.9,271.5L207.1,272.5L204.2,272.0L201.9,272.5L200.9,274.1Z"/>
<path class="c0" d="M185.4,272.2L188.4,271.7L190.1,273.0L188.2,273.5L185.5,272.8Z"/>
<path class="c0" d="M210.6,272.0L214.2,272.0L213.7,273.0L210.5,273.2Z"/>
<path class="ch" d="M187.9,254.2L188.9,254.5L188.4,256.6L187.4,255.8ZM189.5,249.8L191.1,250.8L190.4,252.1L190.0,250.6Z"/>
<path class="c0" d="M221.2,292.1L223.5,291.8L223.2,293.6L221.1,293.8Z"/>
<path class="c0" d="M256.0,125.0L266.0,122.1L276.6,119.7L294.4,118.3L309.0,116.9L320.0,116.5L329.0,117.7L335.4,119.2L346.4,119.7L337.4,122.3L336.5,125.9L332.9,128.9L333.7,131.9L329.9,135.0L327.6,138.1L327.0,141.4L321.5,143.5L312.4,146.4L304.6,150.2L297.1,152.1L291.9,154.8L287.7,159.5L282.2,165.9L279.1,163.7L275.0,162.3L273.4,157.1L272.1,153.7L271.5,149.1L274.3,144.6L278.2,143.5L273.4,141.4L274.1,137.1L273.2,131.9L267.2,129.5L259.2,129.9L256.7,127.5Z"/>
<path class="c0" d="M320.9,152.5L324.4,150.5L332.1,150.9L335.6,150.2L337.9,152.5L339.4,153.7L336.7,155.3L330.3,157.4L326.0,156.4L322.9,156.4L324.5,154.8L321.1,153.9L324.8,152.7Z"/>
<path class="ch" d="M222.4,275.1L223.0,275.1L222.8,275.8ZM222.4,277.2L223.8,277.2L223.0,278.5ZM222.9,279.3L223.6,279.5L223.2,280.3ZM223.5,281.2L224.4,281.6L223.9,282.4ZM223.6,283.2L224.1,283.6L223.7,284.2ZM223.0,285.2L223.4,285.3L223.2,285.8ZM226.6,285.3L227.3,285.7L226.8,286.1ZM221.7,288.2L222.1,288.2L221.9,288.7ZM215.8,272.0L216.8,271.8L216.3,272.2ZM220.1,274.6L220.8,274.8L220.3,275.1Z"/>
<path class="c0" d="M414.5,142.9L418.2,143.7L423.5,144.4L433.3,148.7L434.0,149.6L429.9,151.1L423.1,150.0L418.9,148.9L423.8,153.7L424.7,155.0L428.8,156.2L430.5,156.0L428.5,153.7L434.5,154.7L432.7,151.8L435.9,150.2L439.2,150.7L436.1,145.5L439.9,145.8L442.4,149.1L445.0,147.8L452.3,145.1L455.3,146.2L459.9,145.3L465.4,146.2L464.7,143.3L463.3,142.9L471.3,144.6L475.2,145.5L478.6,146.2L474.9,143.5L472.5,140.3L472.5,136.0L474.4,135.4L479.5,136.5L481.6,139.9L483.9,144.6L488.5,148.0L488.0,150.0L490.2,148.0L486.9,144.6L483.5,140.3L483.2,136.5L488.1,137.5L490.2,138.4L493.3,138.1L490.9,135.0L499.4,134.0L498.2,131.9L508.2,129.7L514.9,128.9L518.4,126.5L531.1,128.5L538.1,130.9L534.8,134.0L541.6,134.4L551.0,135.0L559.5,136.0L564.5,135.0L572.5,138.1L574.3,140.3L578.1,140.7L579.5,139.2L587.4,139.6L588.0,137.1L588.1,136.2L598.3,137.5L607.2,139.2L613.9,140.5L624.1,140.7L631.2,143.3L637.9,143.3L642.0,142.5L645.5,142.2L649.0,144.6L650.5,142.9L655.1,142.7L665.0,144.7L678.5,153.7L676.3,154.6L675.1,154.3L686.1,159.9L679.0,161.1L678.7,163.0L676.8,165.4L668.0,164.7L664.5,165.6L668.9,167.8L669.5,170.2L668.5,170.7L674.7,174.8L674.7,177.5L675.9,178.5L675.8,182.0L673.5,182.5L674.7,187.7L667.6,182.5L662.6,177.5L658.4,172.6L658.2,170.7L658.8,166.6L660.2,164.4L660.3,161.8L657.9,159.5L657.5,161.3L653.0,160.9L652.1,161.3L647.6,161.8L648.6,166.6L645.7,167.8L642.2,166.6L638.4,167.1L632.6,166.8L628.2,167.1L627.2,170.7L625.7,174.1L623.9,178.0L628.7,179.5L631.3,181.0L633.5,179.5L639.0,181.7L641.0,184.2L643.3,188.7L645.9,192.5L646.8,198.9L645.1,204.0L642.0,208.4L638.8,207.6L637.4,209.7L637.1,209.3L637.5,207.9L636.0,205.0L634.0,203.0L638.1,202.5L636.2,193.9L632.5,195.8L626.7,192.8L618.9,190.5L610.5,183.5L603.9,181.2L599.4,181.7L598.7,183.5L601.3,190.0L599.7,191.3L597.0,190.4L592.0,189.5L586.4,191.8L580.1,191.3L574.9,189.2L567.0,188.5L565.8,186.7L558.4,185.0L559.1,188.5L558.2,190.5L553.3,190.0L546.2,188.0L542.8,190.3L539.9,192.1L539.0,192.3L534.2,191.0L528.1,187.5L522.6,188.0L515.3,181.7L511.4,179.5L507.3,181.0L505.7,180.0L501.2,179.5L499.4,176.8L495.6,176.5L489.3,179.0L482.1,180.2L483.7,182.5L481.4,184.2L485.3,186.7L485.4,188.0L482.0,188.5L478.9,187.2L471.5,187.5L463.6,185.7L460.0,188.5L457.3,191.8L458.3,194.3L463.5,198.6L462.3,198.9L464.0,199.3L461.2,201.2L460.0,204.0L462.5,208.0L465.4,210.9L464.1,212.5L460.9,210.7L457.4,208.7L455.0,208.9L452.0,207.4L446.6,206.9L444.3,205.3L442.4,204.3L440.6,203.5L438.7,202.2L440.5,201.7L441.6,199.9L440.5,198.6L443.4,197.6L441.1,197.4L443.8,195.6L443.5,193.0L443.7,191.0L439.3,190.3L434.2,189.0L431.0,185.7L429.7,184.1L425.8,184.7L424.4,182.2L427.0,181.4L422.6,178.0L422.4,176.0L416.9,174.7L415.7,171.9L414.7,171.3L414.6,169.5L414.2,168.3L415.1,166.7L416.6,165.6L418.9,165.6L416.5,164.9L415.6,164.2L414.1,164.1L415.9,162.3L417.4,160.6L419.8,158.5L416.4,156.4L417.1,155.5L415.3,153.9L415.5,152.1L413.1,149.3L414.2,147.5L411.3,145.8L411.7,144.5ZM61.4,144.7L63.2,146.2L64.5,148.2L68.8,149.1L69.2,151.1L66.4,152.3L59.2,155.0L57.2,155.1L55.2,154.1L56.2,152.7L54.8,150.7L50.5,152.5L47.9,153.7ZM70.4,139.2L73.6,139.8L70.9,140.4L68.4,140.4ZM655.0,139.9L656.0,139.2L658.0,140.4L656.5,140.5ZM446.7,138.6L451.0,140.7L457.8,141.2L451.5,137.1L452.1,134.0L454.9,129.9L466.5,128.1L462.5,127.9L454.5,129.3L448.6,131.9L447.2,135.0ZM502.0,123.9L509.1,124.2L517.4,125.0L506.4,122.3L497.5,120.4L495.0,122.3ZM575.1,130.9L583.3,130.3L587.3,131.3L596.1,131.5L590.5,132.3L579.9,132.5ZM585.5,134.2L590.9,135.2L585.9,135.0ZM430.0,121.4L435.3,120.9L434.6,121.9ZM440.8,120.7L447.7,120.6L445.7,121.6ZM444.1,143.8L446.5,144.2L446.1,145.3L444.2,144.6ZM639.3,179.0L643.4,182.5L645.8,185.0L649.7,190.0L654.3,192.5L654.7,197.6L656.5,198.1L657.2,199.4L654.8,200.2L651.4,195.1L647.7,190.0L642.6,185.0L639.6,181.5ZM673.0,188.5L674.6,188.7L673.7,189.8ZM667.6,202.2L669.7,201.5L667.3,203.3ZM665.3,204.8L667.0,204.3L666.2,205.8ZM667.1,167.8L668.6,167.5L668.6,168.7Z"/>
<path class="c1" d="M539.9,192.1L542.8,190.3L546.2,188.0L553.3,190.0L558.2,190.5L559.1,188.5L558.4,185.0L565.8,186.7L567.0,188.5L574.9,189.2L580.1,191.3L586.4,191.8L592.0,189.5L597.0,190.4L597.2,193.0L597.8,195.3L602.6,195.8L603.7,195.3L607.9,197.6L608.2,198.4L603.7,199.2L601.9,200.9L598.2,203.3L594.3,202.5L596.2,206.1L593.6,208.8L588.6,209.3L584.4,211.5L576.6,209.2L572.7,208.8L565.0,208.5L561.1,204.5L556.5,202.9L550.7,202.0L549.4,198.6L545.9,195.3L541.0,193.5Z"/>
<path class="c0" d="M464.0,199.3L467.6,197.4L471.4,197.9L472.9,202.0L469.0,202.0L468.9,204.0L467.6,204.5L469.7,206.2L473.1,208.7L473.6,211.1L476.5,209.6L480.2,212.3L481.4,212.3L478.9,202.7L483.8,201.2L489.7,204.3L492.4,206.6L498.3,206.1L501.4,207.9L501.7,209.4L503.0,210.5L504.0,212.5L507.1,213.6L508.5,214.1L509.0,212.0L510.8,210.5L512.2,209.8L512.2,208.4L516.9,207.9L517.6,209.3L520.1,208.1L524.2,208.0L528.8,208.4L531.7,209.9L531.0,208.1L531.9,207.4L529.7,203.8L528.5,202.7L533.5,202.2L532.7,201.3L532.4,197.1L537.7,197.5L536.6,194.2L538.3,193.0L539.0,192.3L534.2,191.0L528.1,187.5L522.6,188.0L515.3,181.7L511.4,179.5L507.3,181.0L505.7,180.0L501.2,179.5L499.4,176.8L495.6,176.5L489.3,179.0L482.1,180.2L483.7,182.5L481.4,184.2L485.3,186.7L485.4,188.0L482.0,188.5L478.9,187.2L471.5,187.5L463.6,185.7L460.0,188.5L457.3,191.8L458.3,194.3L463.5,198.6L462.3,198.9Z"/>
<path class="c0" d="M473.6,211.1L475.0,212.8L475.7,215.6L477.0,217.2L476.7,218.8L479.2,222.5L482.0,220.6L485.8,220.2L488.7,221.7L490.7,222.1L493.4,224.3L495.2,224.3L495.9,227.1L498.5,228.1L499.9,226.4L502.6,225.3L502.9,223.7L504.4,222.7L506.4,222.5L505.9,220.8L503.7,220.1L499.9,218.4L495.8,215.6L494.0,212.8L490.0,212.0L489.2,209.9L485.9,208.4L484.6,209.9L483.5,212.3L481.4,212.3L480.2,212.3L476.5,209.6Z"/>
<path class="c0" d="M481.4,212.3L478.9,202.7L483.8,201.2L489.7,204.3L492.4,206.6L498.3,206.1L501.4,207.9L501.7,209.4L503.0,210.5L504.0,212.5L507.1,213.6L508.5,214.1L509.0,212.0L510.8,210.5L512.2,209.8L512.1,212.0L515.8,213.1L517.9,213.6L515.9,214.6L512.8,215.0L512.0,213.1L509.9,213.8L510.3,215.1L508.8,215.1L509.1,216.9L506.8,216.9L508.0,218.2L509.0,219.8L509.2,221.4L509.2,222.9L506.4,222.5L505.9,220.8L503.7,220.1L499.9,218.4L495.8,215.6L494.0,212.8L490.0,212.0L489.2,209.9L485.9,208.4L484.6,209.9L483.5,212.3Z"/>
<path class="c0" d="M512.2,209.8L512.2,208.4L516.9,207.9L517.6,209.3L520.1,208.1L524.2,208.0L528.8,208.4L531.7,209.9L531.8,210.5L528.6,212.0L525.8,213.1L521.8,214.6L520.3,215.9L520.1,217.1L516.7,217.3L513.9,217.2L510.8,216.8L510.7,215.9L512.8,215.0L515.9,214.6L517.9,213.6L515.8,213.1L512.1,212.0Z"/>
<path class="c0" d="M512.8,215.0L512.0,213.1L509.9,213.8L510.3,215.1L508.8,215.1L509.1,216.9L506.8,216.9L508.0,218.2L509.0,219.8L509.2,221.4L509.2,222.9L509.7,223.4L512.5,223.2L514.1,221.9L514.2,220.6L516.0,220.1L516.7,221.1L518.1,224.2L520.9,222.3L523.3,222.4L524.4,222.8L523.6,219.8L521.1,219.3L520.1,217.1L516.7,217.3L513.9,217.2L510.8,216.8L510.7,215.9Z"/>
<path class="c5" d="M185.6,297.3L186.7,299.1L187.9,296.8L190.0,292.6L191.7,291.0L194.7,290.5L197.8,288.9L199.0,287.5L199.9,289.1L197.0,291.0L195.6,294.9L196.6,298.1L196.7,300.7L197.6,301.7L202.0,301.7L203.5,304.1L207.9,303.8L207.1,306.2L208.1,311.1L207.0,312.7L208.3,314.0L209.0,316.9L208.5,316.9L206.7,315.6L202.2,315.6L203.9,318.3L201.7,318.6L201.8,320.5L203.2,322.9L202.1,331.0L200.3,329.9L201.8,327.0L195.2,326.3L193.3,323.4L189.8,320.3L187.3,319.0L184.5,318.2L181.3,316.2L181.6,315.3L184.6,313.2L185.4,309.8L184.8,305.6L185.1,302.8L184.1,301.2L185.3,299.4Z"/>
<path class="c5" d="M199.9,289.1L198.4,290.2L199.0,291.6L197.5,294.2L198.7,296.5L200.4,295.2L200.3,292.9L199.6,291.4L200.4,291.0L202.3,290.0L202.9,288.2L203.5,290.0L206.4,290.8L206.8,292.3L211.6,292.3L214.0,293.6L216.9,292.3L221.2,292.1L219.3,293.1L221.8,294.4L223.4,295.5L225.3,297.7L223.6,300.4L222.6,302.5L221.9,304.5L223.3,306.4L221.6,308.5L218.8,309.6L215.8,309.3L214.4,309.3L215.7,313.5L217.1,314.3L215.7,315.0L212.2,317.7L210.3,318.0L209.0,316.9L208.3,314.0L207.0,312.7L208.1,311.1L207.1,306.2L207.9,303.8L203.5,304.1L202.0,301.7L197.6,301.7L196.7,300.7L196.6,298.1L195.6,294.9L197.0,291.0Z"/>
<path class="c4" d="M225.3,297.7L227.6,299.1L228.7,300.9L230.9,303.6L231.8,304.6L231.3,306.4L229.9,307.5L229.5,309.6L230.5,311.3L231.4,312.7L233.0,315.0L231.1,314.9L227.6,316.9L225.8,315.3L225.0,313.2L225.9,309.8L225.7,308.5L224.8,306.4L223.3,306.4L221.9,304.5L222.6,302.5L223.6,300.4Z"/>
<path class="c4" d="M231.8,304.6L234.6,304.6L236.6,304.3L238.9,304.9L238.0,306.9L237.8,308.3L238.8,310.6L237.4,314.0L234.4,314.8L234.1,313.9L233.0,315.0L231.4,312.7L230.5,311.3L229.5,309.6L229.9,307.5L231.3,306.4Z"/>
<path class="c4" d="M238.9,304.9L241.2,305.6L242.8,307.2L244.2,309.2L242.7,311.6L241.3,314.3L237.4,314.0L238.8,310.6L237.8,308.3L238.0,306.9Z"/>
<path class="c5" d="M181.3,316.2L178.8,317.9L178.5,320.0L177.6,321.0L176.7,322.7L176.5,325.7L178.8,326.3L179.1,327.8L178.2,328.9L178.5,330.2L177.9,331.5L179.9,331.6L181.3,333.1L182.6,328.9L183.9,327.8L186.7,326.8L189.2,324.0L189.6,322.5L189.8,320.3L187.3,319.0L184.5,318.2Z"/>
<path class="c3" d="M178.2,328.9L176.0,331.7L176.3,335.7L179.7,338.8L182.7,343.8L185.3,348.7L186.6,351.6L188.6,356.3L191.6,360.2L196.2,362.8L200.9,366.2L203.3,367.9L205.2,365.7L206.0,362.3L204.9,360.7L204.8,358.6L205.8,357.6L206.0,352.6L203.7,348.6L201.3,348.7L201.1,344.8L196.8,345.6L195.1,344.5L195.8,343.5L193.0,339.3L195.2,336.2L195.1,333.1L197.9,331.7L199.9,331.2L202.1,331.0L200.3,329.9L201.8,327.0L195.2,326.3L193.3,323.4L189.8,320.3L189.6,322.5L189.2,324.0L186.7,326.8L183.9,327.8L182.6,328.9L181.3,333.1L179.9,331.6L177.9,331.5L178.5,330.2Z"/>
<path class="ch" d="M205.2,365.7L207.1,369.6L208.1,372.5L209.1,375.9L210.2,379.5L211.8,379.5L213.5,376.9L216.1,377.7L218.1,379.5L219.0,377.4L221.8,378.1L222.2,373.5L223.2,371.2L229.2,370.4L231.4,371.7L231.6,372.6L232.1,369.6L232.6,367.5L230.6,365.2L230.1,362.5L226.0,362.5L225.8,359.4L224.9,356.0L221.9,355.2L219.0,352.9L215.7,352.4L213.5,350.0L213.2,345.6L210.3,345.8L206.6,348.7L203.7,348.6L206.0,352.6L205.8,357.6L204.8,358.6L204.9,360.7L206.0,362.3Z"/>
<path class="ch" d="M221.8,378.1L222.2,373.5L223.2,371.2L229.2,370.4L231.4,371.7L231.6,372.6L232.4,374.0L232.6,377.7L236.9,378.2L237.9,379.0L238.7,382.6L241.1,382.8L240.9,386.8L238.5,391.4L237.5,391.8L232.5,391.3L234.1,386.0L231.2,384.7L228.3,382.6L226.0,382.1Z"/>
<path class="c5" d="M244.2,309.2L245.3,308.5L248.2,315.6L247.0,319.5L251.4,321.6L252.5,321.8L257.2,322.9L261.1,326.5L266.9,327.6L271.0,327.4L274.5,329.7L277.5,332.5L281.9,333.6L283.2,338.5L282.8,343.2L279.7,347.4L277.7,350.0L275.1,353.9L274.2,358.6L274.2,364.4L273.1,368.3L272.0,373.0L270.7,377.4L268.6,380.0L265.9,380.0L262.6,380.8L259.1,382.6L255.6,386.0L254.6,389.2L255.1,393.9L252.8,396.7L251.3,400.9L248.7,404.0L246.6,408.1L246.5,405.4L244.4,403.3L240.5,400.5L237.5,398.6L235.8,398.8L239.1,393.9L240.7,392.6L243.1,390.9L243.2,388.5L240.9,386.8L241.1,382.8L238.7,382.6L237.9,379.0L236.9,378.2L232.6,377.7L232.4,374.0L231.6,372.6L232.1,369.6L232.6,367.5L230.6,365.2L230.1,362.5L226.0,362.5L225.8,359.4L224.9,356.0L221.9,355.2L219.0,352.9L215.7,352.4L213.5,350.0L213.2,345.6L210.3,345.8L206.6,348.7L203.7,348.6L201.3,348.7L201.1,344.8L196.8,345.6L195.1,344.5L195.8,343.5L193.0,339.3L195.2,336.2L195.1,333.1L197.9,331.7L199.9,331.2L202.1,331.0L203.2,322.9L201.8,320.5L201.7,318.6L203.9,318.3L202.2,315.6L206.7,315.6L208.5,316.9L209.0,316.9L210.3,318.0L212.2,317.7L215.7,315.0L217.1,314.3L215.7,313.5L214.4,309.3L215.8,309.3L218.8,309.6L221.6,308.5L223.3,306.4L224.8,306.4L225.7,308.5L225.9,309.8L225.0,313.2L225.8,315.3L227.6,316.9L231.1,314.9L233.0,315.0L234.1,313.9L234.4,314.8L237.4,314.0L241.3,314.3L242.7,311.6Z"/>
<path class="c2" d="M246.6,408.1L243.9,411.2L241.0,411.1L237.3,409.9L235.7,408.5L235.5,404.8L235.4,403.5L235.8,398.8L237.5,398.6L240.5,400.5L244.4,403.3L246.5,405.4Z"/>
<path class="c0" d="M235.7,408.5L236.0,410.0L239.0,412.1L239.5,414.5L240.7,414.9L239.8,419.2L237.0,421.0L230.7,421.5L231.4,425.9L228.4,427.2L225.7,426.4L226.5,429.5L229.9,430.8L227.5,432.9L228.3,437.3L224.7,439.6L224.8,440.6L229.1,442.9L227.5,448.2L225.6,452.3L228.7,455.9L225.2,455.0L221.2,455.0L219.2,451.8L215.3,448.0L215.8,442.9L215.0,437.3L213.1,432.1L211.4,426.9L211.1,421.5L211.0,414.5L210.6,409.5L209.9,406.1L208.0,401.4L208.1,396.2L210.3,390.7L209.6,383.9L211.8,379.5L213.5,376.9L216.1,377.7L218.1,379.5L219.0,377.4L221.8,378.1L226.0,382.1L228.3,382.6L231.2,384.7L234.1,386.0L232.5,391.3L237.5,391.8L238.5,391.4L240.9,386.8L243.2,388.5L243.1,390.9L240.7,392.6L239.1,393.9L235.8,398.8L235.4,403.5L235.5,404.8ZM228.6,456.6L231.9,459.8L237.3,461.6L235.2,462.6L231.0,462.2Z"/>
<path class="c0" d="M203.3,367.9L204.3,372.7L204.3,381.3L205.1,390.5L204.9,398.0L206.4,406.1L205.5,412.7L204.7,417.1L207.1,423.1L207.9,429.0L209.8,429.0L211.4,433.4L211.8,438.5L208.6,441.6L212.1,444.9L212.7,451.3L215.9,455.5L219.7,458.3L225.2,459.6L224.4,457.3L226.5,455.8L228.7,455.9L225.2,455.0L221.2,455.0L219.2,451.8L215.3,448.0L215.8,442.9L215.0,437.3L213.1,432.1L211.4,426.9L211.1,421.5L211.0,414.5L210.6,409.5L209.9,406.1L208.0,401.4L208.1,396.2L210.3,390.7L209.6,383.9L211.8,379.5L210.2,379.5L209.1,375.9L208.1,372.5L207.1,369.6L205.2,365.7ZM228.6,456.6L231.0,462.2L228.7,463.0L224.0,461.2L225.5,459.8L225.5,457.3L227.2,456.5ZM207.4,429.0L208.9,429.5L209.7,433.1L207.8,432.6Z"/>
<path class="c1" d="M516.6,258.1L518.8,261.9L522.4,265.5L523.6,266.0L525.9,264.9L526.3,262.1L527.3,264.9L528.3,270.4L530.0,275.6L531.5,279.5L534.4,286.3L538.1,293.9L541.3,298.9L542.8,296.8L544.8,295.7L546.4,293.1L546.1,290.0L546.9,285.8L546.0,280.1L548.2,277.5L550.6,276.7L552.6,273.8L555.9,269.6L559.0,267.3L559.8,264.4L562.4,263.6L564.3,263.1L563.5,260.5L562.6,256.8L561.1,256.1L560.9,252.7L561.1,251.1L564.2,252.1L564.5,254.0L570.5,254.7L570.4,256.6L568.2,257.1L568.4,258.7L569.3,260.0L570.8,258.1L572.2,262.6L573.5,262.1L573.2,257.4L575.5,254.0L575.9,250.3L577.8,248.7L579.5,247.4L579.8,246.4L576.8,243.5L574.0,243.8L571.0,245.1L568.4,247.4L567.4,247.4L568.9,249.8L566.5,250.1L563.8,250.3L561.7,249.7L561.2,248.7L560.9,246.8L559.4,247.2L560.2,251.1L554.9,250.6L550.8,248.5L549.0,248.6L543.4,246.1L541.1,244.8L541.0,244.7L542.3,241.0L536.9,238.3L535.9,235.2L537.3,234.6L535.8,232.8L535.0,230.5L532.4,227.3L531.9,227.3L530.6,228.6L526.5,229.7L524.1,230.5L524.8,231.8L526.8,233.9L528.6,235.7L527.0,236.5L527.7,238.8L526.7,241.2L525.2,243.8L523.3,247.0L519.9,246.9L518.4,249.5L519.9,250.8L521.8,252.9L522.7,256.3L517.7,256.6Z"/>
<path class="c0" d="M541.0,244.7L542.3,241.0L545.1,241.4L549.3,243.5L552.4,245.4L554.7,247.2L557.5,247.4L559.4,247.2L560.2,251.1L554.9,250.6L550.8,248.5L549.0,248.6L543.4,246.1L541.1,244.8Z"/>
<path class="c0" d="M561.2,248.7L561.6,248.0L562.8,246.4L566.5,246.9L567.4,247.4L568.9,249.8L566.5,250.1L563.8,250.3L561.7,249.7Z"/>
<path class="c0" d="M564.3,263.1L563.5,260.5L562.6,256.8L561.1,256.1L560.9,252.7L561.1,251.1L564.2,252.1L564.5,254.0L570.5,254.7L570.4,256.6L568.2,257.1L568.4,258.7L569.3,260.0L570.8,258.1L572.2,262.6L572.4,264.4L572.0,266.0L570.3,261.8L567.9,261.3L567.0,262.8Z"/>
<path class="ch" d="M546.8,294.4L548.7,295.7L550.0,297.8L551.5,300.9L551.2,303.0L548.7,304.6L547.3,303.8L546.7,301.7L546.6,298.3Z"/>
<path class="ch" d="M572.0,266.0L572.4,264.4L572.2,262.6L573.5,262.1L573.2,257.4L575.5,254.0L575.9,250.3L577.8,248.7L579.5,247.4L579.8,246.4L581.9,248.0L583.2,248.0L584.1,252.4L582.2,255.3L582.7,257.6L585.9,259.4L587.0,262.2L589.3,263.9L591.6,263.7L589.7,266.9L587.5,268.3L585.2,268.6L584.3,271.7L588.5,277.5L587.3,280.3L590.1,285.5L591.4,289.2L589.9,292.9L589.4,294.0L589.1,289.5L587.6,283.5L586.2,280.8L585.5,276.9L583.6,274.8L582.3,276.7L580.7,278.9L578.1,278.1L578.0,273.8L577.2,270.9L575.2,268.3L573.3,267.3Z"/>
<path class="c3" d="M589.4,294.0L589.9,292.9L591.4,289.2L590.1,285.5L587.3,280.3L588.5,277.5L584.3,271.7L585.2,268.6L587.5,268.3L589.7,266.9L591.2,269.1L592.5,269.0L592.7,273.0L593.1,274.3L595.1,272.5L596.6,273.2L599.1,272.1L601.6,274.6L601.8,276.9L604.0,279.3L604.2,282.4L603.5,282.5L598.5,282.7L597.1,284.8L599.0,289.6L597.3,288.2L594.4,287.0L594.0,284.9L591.9,285.3L592.2,288.2L590.8,292.6L591.2,295.7L592.9,296.5L593.7,299.1L594.5,301.2L597.4,302.3L598.1,303.7L595.9,305.1L595.6,303.7L593.6,303.2L593.5,303.2L592.5,302.0L591.2,299.6L589.1,299.1L589.1,296.5Z"/>
<path class="c1" d="M589.7,266.9L591.6,263.7L593.3,264.7L592.6,261.3L593.6,261.5L595.6,263.6L598.3,265.5L599.9,266.8L598.9,268.8L602.0,271.2L605.6,275.6L608.2,278.2L608.8,280.6L608.8,281.6L605.4,282.5L603.5,282.5L604.2,282.4L604.0,279.3L601.8,276.9L601.6,274.6L599.1,272.1L596.6,273.2L595.1,272.5L593.1,274.3L592.7,273.0L592.5,269.0L591.2,269.1Z"/>
<path class="c0" d="M599.0,289.6L597.1,284.8L598.5,282.7L603.5,282.5L605.4,282.5L608.8,281.6L609.0,284.8L609.6,287.9L606.9,288.8L606.0,291.3L604.2,291.6L602.8,292.8L600.9,292.6L600.5,291.0L599.6,291.3Z"/>
<path class="c1" d="M602.8,292.8L603.9,297.6L605.3,296.5L608.2,292.9L611.1,291.6L613.4,288.9L613.7,286.3L613.1,284.0L611.7,280.1L610.0,278.0L606.9,275.6L605.0,273.3L603.1,270.9L603.1,268.1L604.5,266.0L606.4,264.7L607.2,263.8L604.7,262.6L603.4,260.2L600.5,259.2L597.6,261.0L595.4,261.3L593.6,261.5L595.6,263.6L598.3,265.5L599.9,266.8L598.9,268.8L602.0,271.2L605.6,275.6L608.2,278.2L608.8,280.6L608.8,281.6L609.0,284.8L609.6,287.9L606.9,288.8L606.0,291.3L604.2,291.6Z"/>
<path class="c0" d="M593.5,303.2L593.6,303.2L595.6,303.7L595.9,305.1L598.1,303.7L601.3,307.5L601.5,310.9L603.4,316.3L601.8,316.6L598.8,314.3L596.6,312.4L595.1,309.6L594.2,305.9ZM615.9,314.6L619.7,313.0L623.6,311.6L625.7,308.1L627.2,309.6L628.5,308.8L628.7,306.9L629.1,305.6L630.4,304.3L631.7,301.7L634.0,303.3L633.8,304.3L635.0,304.7L637.7,306.4L635.7,308.8L634.1,309.1L630.1,308.6L629.6,312.2L628.2,313.7L627.8,316.3L625.3,316.7L621.8,316.2L620.9,317.4L618.0,317.8L616.0,315.8Z"/>
<path class="c3" d="M625.7,308.1L628.7,306.9L628.5,308.8L627.2,309.6Z"/>
<path class="ch" d="M582.6,305.4L587.7,306.3L589.6,308.5L590.6,310.1L594.6,314.0L597.2,315.6L600.2,318.2L602.5,320.0L601.8,322.6L604.1,324.7L607.5,327.8L607.1,331.2L606.8,335.3L603.9,335.4L603.3,333.1L598.7,329.9L594.6,322.5L591.4,317.4L590.7,315.4L587.2,311.6L584.5,309.0L582.6,306.4ZM605.2,337.7L607.1,335.4L609.0,335.8L612.4,336.4L613.0,337.6L617.1,338.0L618.4,336.7L622.2,338.0L622.4,338.8L626.2,340.2L626.5,342.8L622.2,341.9L616.1,340.6L612.6,340.1L608.1,339.2ZM615.9,314.6L616.0,315.8L618.0,317.8L620.9,317.4L621.8,316.2L625.3,316.7L627.8,316.3L628.2,313.7L629.6,312.2L630.1,308.6L634.1,309.1L634.6,310.6L633.5,311.6L635.2,314.0L637.3,317.7L634.3,319.2L634.1,322.1L632.5,323.4L631.2,327.6L630.4,329.4L627.2,330.7L623.6,328.4L620.5,328.9L617.1,327.6L617.0,324.4L614.7,321.0L615.0,320.0L614.3,317.7L614.5,316.1ZM639.4,317.9L641.9,316.6L646.8,317.5L651.3,315.6L650.2,318.7L647.5,319.2L642.2,318.8L640.1,320.0L640.5,322.3L643.5,322.3L647.7,322.6L643.7,325.0L646.3,330.4L645.4,334.1L643.0,332.0L641.8,327.0L640.4,327.6L640.4,334.6L638.3,334.4L638.5,329.1L637.0,327.3L639.4,320.3ZM665.0,322.3L668.5,320.9L672.4,322.2L672.7,326.5L674.2,328.6L676.4,327.6L680.9,323.9L683.6,325.2L688.1,326.8L687.0,343.8L682.7,341.1L679.6,341.9L681.7,338.3L680.8,334.4L675.3,331.5L670.7,330.2L669.1,330.7L667.4,327.6L671.3,326.5L668.1,326.0L665.9,323.9ZM627.5,341.1L629.1,341.9L627.8,343.0ZM629.8,341.9L631.4,341.9L630.8,343.2ZM632.0,341.9L636.7,341.7L636.3,343.0L631.9,343.5ZM638.7,341.9L645.6,341.4L645.3,342.7L638.9,343.0ZM636.4,344.8L640.4,346.0L638.5,346.9ZM646.5,347.0L648.9,344.3L650.4,342.6L650.4,344.8L647.7,346.9ZM657.1,315.3L658.2,314.3L659.9,316.1L658.1,317.9L659.5,319.2L658.1,322.3L657.4,318.7ZM658.1,328.4L664.6,328.6L662.7,329.4L658.6,329.1ZM653.5,328.4L656.3,328.6L655.1,329.9ZM605.7,324.2L608.0,324.2L609.1,327.8L607.3,326.5ZM611.2,326.8L612.8,327.0L612.0,328.4ZM672.1,334.4L673.4,335.4L672.3,337.7L671.8,336.2ZM664.4,339.8L666.1,338.8L665.7,340.9ZM587.0,316.3L588.9,317.7L588.2,318.4ZM590.5,322.6L592.1,324.4L590.9,324.4Z"/>
<path class="c0" d="M650.4,342.6L655.7,341.9L653.8,343.5L650.4,344.8Z"/>
<path class="ch" d="M688.1,326.8L691.5,328.4L696.1,329.9L698.9,333.6L701.5,335.7L703.3,336.4L701.3,337.7L703.6,340.9L706.1,343.5L708.9,347.7L706.2,346.9L701.2,344.8L698.8,341.1L695.4,339.8L693.0,341.7L692.3,343.5L690.4,344.3L687.0,343.8ZM704.5,334.6L708.6,333.1L712.1,331.0L714.0,331.2L713.1,334.4L709.5,336.2L706.0,336.2ZM710.7,326.8L714.5,329.9L715.5,332.3L714.7,331.0L711.1,327.8ZM719.3,334.4L721.8,337.5L720.2,337.2ZM701.1,325.2L703.0,325.2L702.0,326.0Z"/>
<path class="ch" d="M723.2,337.5L725.4,339.1L724.2,339.1ZM727.6,339.8L730.4,341.9L728.6,341.4ZM729.7,344.3L732.3,345.6L730.5,345.6ZM732.5,341.9L733.5,344.8L732.9,344.0ZM733.3,346.9L735.4,348.2L733.8,347.9Z"/>
<path class="c0" d="M743.5,359.2L744.6,360.5L743.6,360.7ZM744.3,361.8L745.4,363.1L744.5,363.1ZM745.6,365.9L746.2,366.5L745.5,366.5Z"/>
<path class="c0" d="M734.5,372.5L739.8,377.4L738.7,378.2L734.5,374.3Z"/>
<path class="c2" d="M766.5,365.4L769.3,365.9L768.0,367.5L766.0,367.2ZM770.4,363.1L773.4,362.3L771.8,363.8Z"/>
<path class="c3" d="M637.0,271.7L640.0,272.2L640.6,271.7L641.2,275.1L642.0,275.6L640.4,278.5L641.0,282.7L643.1,282.9L646.4,284.0L647.3,287.1L645.3,286.1L643.6,285.3L642.1,284.0L639.8,284.2L638.9,283.7L639.3,281.9L637.4,281.4L636.1,277.5L637.4,276.7L637.0,274.3ZM644.0,302.0L645.6,298.6L647.7,298.9L649.6,296.5L651.3,294.4L653.4,297.8L654.3,300.9L653.6,303.6L651.6,305.4L652.1,301.7L649.0,303.8L648.3,300.9L646.9,299.9ZM647.8,287.4L650.1,287.4L651.4,291.0L649.8,290.8ZM648.3,290.2L649.8,291.6L650.5,293.4L649.6,293.4ZM644.1,293.9L645.2,291.4L646.5,292.3L646.1,296.2L644.7,295.5ZM642.5,288.9L645.3,290.0L644.4,292.6L643.1,292.6ZM646.4,293.9L647.5,290.8L647.7,293.1L646.5,295.2ZM632.5,298.1L637.1,290.2L636.9,292.6L633.1,297.3ZM638.3,285.0L641.1,285.5L640.7,287.9L639.5,287.1ZM646.1,287.1L647.1,287.4L646.8,288.7L645.3,288.2ZM648.0,293.9L649.2,293.9L648.6,294.9Z"/>
<path class="ch" d="M635.6,254.0L636.9,254.7L636.7,260.0L636.0,262.8L633.7,260.0L634.4,255.8Z"/>
<path class="c0" d="M648.9,231.4L649.5,230.2L650.9,227.5L651.8,227.1L655.8,226.8L657.6,226.0L658.2,224.2L658.5,222.1L658.5,223.4L661.2,222.4L662.0,220.3L661.6,217.7L660.1,215.8L659.6,213.8L659.5,212.5L661.5,212.0L663.5,214.3L665.6,216.7L666.4,220.1L665.7,220.8L667.1,223.4L667.1,225.3L668.5,226.8L667.3,228.9L666.4,227.3L665.4,228.4L665.5,229.7L664.1,229.7L661.4,229.7L661.6,230.5L660.7,231.5L660.1,232.7L658.1,231.5L657.9,230.5L657.0,229.6L654.9,229.7L652.0,230.5L650.2,231.3ZM649.0,231.5L651.0,232.3L652.4,233.9L652.7,238.0L651.4,239.1L650.1,238.3L648.9,235.2L647.3,233.9L647.0,232.6L648.2,232.3ZM652.4,232.8L652.8,231.3L655.9,230.3L657.4,231.8L656.9,233.2L654.8,232.8L654.7,234.5ZM657.5,210.5L656.2,207.4L658.3,207.1L656.7,203.8L655.7,201.5L660.1,204.3L663.1,205.3L664.7,204.4L667.4,207.0L665.0,208.0L664.5,210.6L660.3,208.9L658.8,209.4L660.2,211.0L658.6,211.9Z"/>
<path class="ch" d="M627.5,215.8L629.5,213.1L630.3,211.0L633.4,212.0L632.7,210.5L635.2,209.3L637.1,209.3L637.4,209.7L636.8,212.0L637.7,213.6L635.8,215.6L635.2,217.7L637.8,219.2L635.3,220.1L634.9,221.5L632.5,221.5L630.8,220.6L631.1,219.0L629.5,216.7Z"/>
<path class="c0" d="M634.9,221.5L636.0,223.4L636.2,224.7L637.6,227.3L638.2,229.7L640.4,230.0L642.8,228.9L643.8,228.1L643.3,225.8L641.9,223.2L637.8,219.2L635.3,220.1ZM639.2,232.8L640.7,232.6L640.3,233.3Z"/>
<path class="ch" d="M627.5,215.8L625.1,216.7L622.3,218.9L621.8,216.2L621.8,214.1L619.2,213.4L617.5,215.9L614.9,217.7L615.0,219.3L619.0,221.4L619.4,222.9L622.4,221.4L626.9,222.4L624.4,224.5L623.5,225.9L622.3,228.6L625.4,230.5L628.2,234.4L631.5,237.3L632.1,239.1L630.5,240.9L633.5,242.0L633.7,246.1L632.2,247.2L630.9,252.4L629.7,255.5L628.5,256.3L625.9,259.2L620.8,261.8L619.2,262.1L614.0,264.1L612.7,264.7L613.1,267.0L611.9,267.0L610.7,263.6L608.4,263.4L607.2,263.8L604.7,262.6L603.4,260.2L600.5,259.2L597.6,261.0L595.4,261.3L593.6,261.5L592.6,261.3L593.3,264.7L591.6,263.7L589.3,263.9L587.0,262.2L585.9,259.4L582.7,257.6L582.2,255.3L584.1,252.4L583.2,248.0L581.9,248.0L579.8,246.4L576.8,243.5L574.0,243.8L571.0,245.1L568.4,247.4L567.4,247.4L566.5,246.9L562.8,246.4L561.6,248.0L561.2,248.7L560.9,246.8L559.4,247.2L557.5,247.4L554.7,247.2L552.4,245.4L549.3,243.5L545.1,241.4L542.3,241.0L536.9,238.3L535.9,235.2L537.3,234.6L535.8,232.8L535.0,230.5L532.4,227.3L531.9,227.3L527.7,226.0L527.1,224.5L524.4,222.8L523.6,219.8L521.1,219.3L520.1,217.1L520.3,215.9L521.8,214.6L525.8,213.1L528.6,212.0L531.8,210.5L531.7,209.9L531.0,208.1L531.9,207.4L529.7,203.8L528.5,202.7L533.5,202.2L532.7,201.3L532.4,197.1L537.7,197.5L536.6,194.2L538.3,193.0L539.0,192.3L539.9,192.1L541.0,193.5L545.9,195.3L549.4,198.6L550.7,202.0L556.5,202.9L561.1,204.5L565.0,208.5L572.7,208.8L576.6,209.2L584.4,211.5L588.6,209.3L593.6,208.8L596.2,206.1L594.3,202.5L598.2,203.3L601.9,200.9L603.7,199.2L608.2,198.4L607.9,197.6L603.7,195.3L602.6,195.8L597.8,195.3L597.2,193.0L597.0,190.4L599.7,191.3L601.3,190.0L598.7,183.5L599.4,181.7L603.9,181.2L610.5,183.5L618.9,190.5L626.7,192.8L632.5,195.8L636.2,193.9L638.1,202.5L634.0,203.0L636.0,205.0L637.5,207.9L637.1,209.3L635.2,209.3L632.7,210.5L633.4,212.0L630.3,211.0L629.5,213.1ZM609.7,269.6L611.2,267.8L614.3,267.8L613.9,270.9L612.2,272.5L610.0,271.7Z"/>
<path class="c0" d="M690.0,347.9L691.6,353.4L691.7,357.6L694.9,359.2L695.1,364.1L695.1,369.3L700.0,373.0L700.4,375.1L702.8,380.3L706.0,386.0L704.6,391.5L704.6,394.8L699.9,402.2L695.8,405.9L693.3,408.5L688.3,414.0L685.6,417.9L680.3,419.2L675.7,422.0L674.2,418.9L669.8,421.4L665.6,419.3L664.5,416.6L665.3,413.7L663.5,412.9L664.3,411.1L665.3,406.7L665.5,405.1L662.5,408.0L658.8,410.8L657.2,406.1L657.3,404.8L652.2,402.2L647.1,402.7L639.9,404.3L634.8,406.1L632.8,408.5L629.4,408.4L625.1,408.6L619.4,411.5L615.5,411.0L614.0,409.7L614.5,407.7L616.4,406.9L617.7,403.5L617.3,399.6L617.8,395.2L617.5,391.3L616.3,388.3L618.2,387.6L618.1,383.9L619.5,379.0L620.9,376.9L621.9,377.0L627.2,373.8L631.6,373.0L637.9,370.9L640.9,366.8L643.1,363.1L644.4,365.2L644.8,362.3L648.5,359.2L651.2,356.5L653.4,355.9L655.9,358.9L659.1,358.9L659.8,355.5L662.7,352.4L666.9,351.6L665.8,349.2L672.4,351.6L676.8,352.1L674.1,355.8L672.5,358.9L675.5,361.5L679.9,365.2L683.4,365.7L686.2,359.2L687.2,353.7L687.8,352.9L689.0,348.7ZM669.6,426.2L672.7,427.2L676.9,426.7L675.0,429.5L672.1,432.6L669.0,433.7L667.7,432.9L668.1,430.1ZM659.2,413.2L662.1,413.4L660.8,414.0L659.1,414.0ZM662.1,349.8L664.4,349.8L663.1,350.8Z"/>
<path class="c1" d="M739.5,409.8L740.9,412.1L740.2,416.0L742.1,415.5L741.5,418.1L743.1,418.9L746.7,418.4L742.7,422.3L740.2,423.1L738.7,424.9L732.5,428.5L732.1,427.7L735.1,424.9L733.8,422.5L736.4,421.2L739.0,417.6L739.6,415.0L739.1,411.9ZM729.2,425.7L730.8,427.7L727.6,430.6L723.6,433.1L723.4,434.2L718.6,435.5L714.0,439.6L710.0,441.4L707.6,441.4L705.2,440.1L708.3,437.3L712.8,434.7L719.7,432.1L722.2,430.7L725.6,428.2L727.4,426.4ZM705.7,441.9L706.7,442.1L705.3,442.9Z"/>
</g>
<g class="lg">
<rect x="157.3" y="537.3" width="47.2" height="10.9" fill="url(#hatch)" stroke="#bbb" stroke-width="0.6"/>
<text x="181" y="530" text-anchor="middle">No data</text>
<rect x="224" y="537.3" width="58.7" height="10.9" fill="#ffffe5"/>
<rect x="282.7" y="537.3" width="58.7" height="10.9" fill="#fff7bc"/>
<rect x="341.4" y="537.3" width="58.7" height="10.9" fill="#fee391"/>
<rect x="400.1" y="537.3" width="58.7" height="10.9" fill="#fec44f"/>
<rect x="458.8" y="537.3" width="58.7" height="10.9" fill="#fe9929"/>
<rect x="517.5" y="537.3" width="58.7" height="10.9" fill="#ec7014"/>
<rect x="576.2" y="537.3" width="58.7" height="10.9" fill="#cc4c02"/>
<path d="M634.9,537.3H688L693.5,542.75L688,548.2H634.9Z" fill="#8c2d04" style="stroke:none"/>
<path d="M224,537.3H688L693.5,542.75L688,548.2H224Z" fill="none" style="stroke:#b5b5a5;stroke-width:0.6"/>
<g style="stroke:#999;stroke-width:0.6"><path d="M282.7,534.5V548.2M341.4,534.5V548.2M400.1,534.5V548.2M458.8,534.5V548.2M517.5,534.5V548.2M576.2,534.5V548.2M634.9,534.5V548.2M224,534.5V548.2M181,534.5V537.3"/></g>
<text x="224" y="530" text-anchor="middle">0</text>
<text x="282.7" y="530" text-anchor="middle">0.1</text>
<text x="341.4" y="530" text-anchor="middle">0.2</text>
<text x="400.1" y="530" text-anchor="middle">0.5</text>
<text x="458.8" y="530" text-anchor="middle">1</text>
<text x="517.5" y="530" text-anchor="middle">2</text>
<text x="576.2" y="530" text-anchor="middle">5</text>
<text x="634.9" y="530" text-anchor="middle">10</text>
</g>
</svg>
<div id="foot"><b>Data source:</b> United Nations Department of Economic and Social Affairs Population Division</div>
<div id="foot2">OurWorldinData.org/maternal-mortality | CC BY</div>
</body></html>
